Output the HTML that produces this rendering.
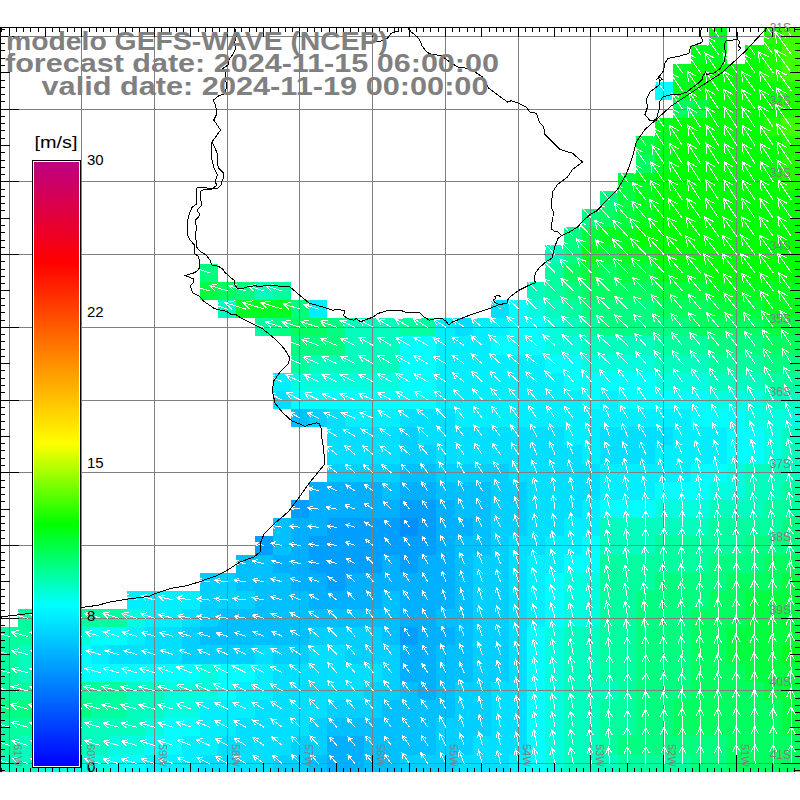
<!DOCTYPE html>
<html><head><meta charset="utf-8"><style>
html,body{margin:0;padding:0;background:#fff;width:800px;height:800px;overflow:hidden}
svg{display:block}
</style></head><body>
<svg width="800" height="800" viewBox="0 0 800 800">
<defs><clipPath id="oc"><rect x="709" y="27" width="18" height="18"/><rect x="764" y="27" width="18" height="18"/><rect x="782" y="27" width="18" height="18"/><rect x="691" y="45" width="36" height="19"/><rect x="745" y="45" width="19" height="19"/><rect x="764" y="45" width="18" height="19"/><rect x="782" y="45" width="18" height="19"/><rect x="673" y="64" width="18" height="18"/><rect x="691" y="64" width="73" height="18"/><rect x="764" y="64" width="18" height="18"/><rect x="782" y="64" width="18" height="18"/><rect x="655" y="82" width="18" height="18"/><rect x="673" y="82" width="18" height="18"/><rect x="691" y="82" width="91" height="18"/><rect x="782" y="82" width="18" height="18"/><rect x="673" y="100" width="18" height="18"/><rect x="691" y="100" width="18" height="18"/><rect x="709" y="100" width="73" height="18"/><rect x="782" y="100" width="18" height="18"/><rect x="655" y="118" width="18" height="18"/><rect x="673" y="118" width="91" height="18"/><rect x="764" y="118" width="18" height="18"/><rect x="782" y="118" width="18" height="18"/><rect x="636" y="136" width="19" height="19"/><rect x="655" y="136" width="18" height="19"/><rect x="673" y="136" width="109" height="19"/><rect x="782" y="136" width="18" height="19"/><rect x="636" y="155" width="19" height="18"/><rect x="655" y="155" width="18" height="18"/><rect x="673" y="155" width="109" height="18"/><rect x="782" y="155" width="18" height="18"/><rect x="618" y="173" width="18" height="18"/><rect x="636" y="173" width="19" height="18"/><rect x="655" y="173" width="127" height="18"/><rect x="782" y="173" width="18" height="18"/><rect x="600" y="191" width="18" height="18"/><rect x="618" y="191" width="18" height="18"/><rect x="636" y="191" width="19" height="18"/><rect x="655" y="191" width="145" height="18"/><rect x="582" y="209" width="18" height="18"/><rect x="600" y="209" width="18" height="18"/><rect x="618" y="209" width="18" height="18"/><rect x="636" y="209" width="19" height="18"/><rect x="655" y="209" width="145" height="18"/><rect x="564" y="227" width="18" height="18"/><rect x="582" y="227" width="18" height="18"/><rect x="600" y="227" width="36" height="18"/><rect x="636" y="227" width="164" height="18"/><rect x="545" y="245" width="19" height="19"/><rect x="564" y="245" width="18" height="19"/><rect x="582" y="245" width="18" height="19"/><rect x="600" y="245" width="18" height="19"/><rect x="618" y="245" width="37" height="19"/><rect x="655" y="245" width="145" height="19"/><rect x="200" y="264" width="18" height="18"/><rect x="545" y="264" width="19" height="18"/><rect x="564" y="264" width="18" height="18"/><rect x="582" y="264" width="18" height="18"/><rect x="600" y="264" width="18" height="18"/><rect x="618" y="264" width="37" height="18"/><rect x="655" y="264" width="54" height="18"/><rect x="709" y="264" width="91" height="18"/><rect x="200" y="282" width="18" height="18"/><rect x="218" y="282" width="18" height="18"/><rect x="236" y="282" width="19" height="18"/><rect x="255" y="282" width="18" height="18"/><rect x="273" y="282" width="18" height="18"/><rect x="527" y="282" width="18" height="18"/><rect x="545" y="282" width="19" height="18"/><rect x="564" y="282" width="18" height="18"/><rect x="582" y="282" width="73" height="18"/><rect x="655" y="282" width="54" height="18"/><rect x="709" y="282" width="91" height="18"/><rect x="218" y="300" width="18" height="18"/><rect x="236" y="300" width="55" height="18"/><rect x="291" y="300" width="18" height="18"/><rect x="309" y="300" width="18" height="18"/><rect x="491" y="300" width="18" height="18"/><rect x="509" y="300" width="18" height="18"/><rect x="527" y="300" width="18" height="18"/><rect x="545" y="300" width="19" height="18"/><rect x="564" y="300" width="18" height="18"/><rect x="582" y="300" width="73" height="18"/><rect x="655" y="300" width="54" height="18"/><rect x="709" y="300" width="55" height="18"/><rect x="764" y="300" width="36" height="18"/><rect x="255" y="318" width="18" height="18"/><rect x="273" y="318" width="18" height="18"/><rect x="291" y="318" width="36" height="18"/><rect x="327" y="318" width="18" height="18"/><rect x="345" y="318" width="55" height="18"/><rect x="400" y="318" width="36" height="18"/><rect x="436" y="318" width="19" height="18"/><rect x="455" y="318" width="18" height="18"/><rect x="473" y="318" width="36" height="18"/><rect x="509" y="318" width="36" height="18"/><rect x="545" y="318" width="19" height="18"/><rect x="564" y="318" width="18" height="18"/><rect x="582" y="318" width="18" height="18"/><rect x="600" y="318" width="91" height="18"/><rect x="691" y="318" width="73" height="18"/><rect x="764" y="318" width="36" height="18"/><rect x="291" y="336" width="54" height="19"/><rect x="345" y="336" width="55" height="19"/><rect x="400" y="336" width="36" height="19"/><rect x="436" y="336" width="55" height="19"/><rect x="491" y="336" width="54" height="19"/><rect x="545" y="336" width="37" height="19"/><rect x="582" y="336" width="73" height="19"/><rect x="655" y="336" width="54" height="19"/><rect x="709" y="336" width="55" height="19"/><rect x="764" y="336" width="36" height="19"/><rect x="291" y="355" width="18" height="18"/><rect x="309" y="355" width="91" height="18"/><rect x="400" y="355" width="36" height="18"/><rect x="436" y="355" width="109" height="18"/><rect x="545" y="355" width="37" height="18"/><rect x="582" y="355" width="73" height="18"/><rect x="655" y="355" width="54" height="18"/><rect x="709" y="355" width="55" height="18"/><rect x="764" y="355" width="36" height="18"/><rect x="273" y="373" width="18" height="18"/><rect x="291" y="373" width="109" height="18"/><rect x="400" y="373" width="36" height="18"/><rect x="436" y="373" width="128" height="18"/><rect x="564" y="373" width="91" height="18"/><rect x="655" y="373" width="54" height="18"/><rect x="709" y="373" width="55" height="18"/><rect x="764" y="373" width="36" height="18"/><rect x="273" y="391" width="18" height="18"/><rect x="291" y="391" width="145" height="18"/><rect x="436" y="391" width="146" height="18"/><rect x="582" y="391" width="18" height="18"/><rect x="600" y="391" width="18" height="18"/><rect x="618" y="391" width="91" height="18"/><rect x="709" y="391" width="55" height="18"/><rect x="764" y="391" width="36" height="18"/><rect x="291" y="409" width="18" height="18"/><rect x="309" y="409" width="18" height="18"/><rect x="327" y="409" width="18" height="18"/><rect x="345" y="409" width="55" height="18"/><rect x="400" y="409" width="55" height="18"/><rect x="455" y="409" width="236" height="18"/><rect x="691" y="409" width="54" height="18"/><rect x="745" y="409" width="55" height="18"/><rect x="327" y="427" width="73" height="18"/><rect x="400" y="427" width="18" height="18"/><rect x="418" y="427" width="146" height="18"/><rect x="564" y="427" width="36" height="18"/><rect x="600" y="427" width="73" height="18"/><rect x="673" y="427" width="54" height="18"/><rect x="727" y="427" width="37" height="18"/><rect x="764" y="427" width="18" height="18"/><rect x="782" y="427" width="18" height="18"/><rect x="327" y="445" width="73" height="19"/><rect x="400" y="445" width="36" height="19"/><rect x="436" y="445" width="146" height="19"/><rect x="582" y="445" width="18" height="19"/><rect x="600" y="445" width="55" height="19"/><rect x="655" y="445" width="72" height="19"/><rect x="727" y="445" width="37" height="19"/><rect x="764" y="445" width="18" height="19"/><rect x="782" y="445" width="18" height="19"/><rect x="327" y="464" width="73" height="18"/><rect x="400" y="464" width="36" height="18"/><rect x="436" y="464" width="73" height="18"/><rect x="509" y="464" width="91" height="18"/><rect x="600" y="464" width="91" height="18"/><rect x="691" y="464" width="36" height="18"/><rect x="727" y="464" width="18" height="18"/><rect x="745" y="464" width="55" height="18"/><rect x="309" y="482" width="73" height="18"/><rect x="382" y="482" width="18" height="18"/><rect x="400" y="482" width="36" height="18"/><rect x="436" y="482" width="55" height="18"/><rect x="491" y="482" width="36" height="18"/><rect x="527" y="482" width="73" height="18"/><rect x="600" y="482" width="55" height="18"/><rect x="655" y="482" width="54" height="18"/><rect x="709" y="482" width="36" height="18"/><rect x="745" y="482" width="37" height="18"/><rect x="782" y="482" width="18" height="18"/><rect x="291" y="500" width="18" height="18"/><rect x="309" y="500" width="91" height="18"/><rect x="400" y="500" width="36" height="18"/><rect x="436" y="500" width="19" height="18"/><rect x="455" y="500" width="36" height="18"/><rect x="491" y="500" width="36" height="18"/><rect x="527" y="500" width="55" height="18"/><rect x="582" y="500" width="18" height="18"/><rect x="600" y="500" width="55" height="18"/><rect x="655" y="500" width="54" height="18"/><rect x="709" y="500" width="55" height="18"/><rect x="764" y="500" width="36" height="18"/><rect x="273" y="518" width="18" height="18"/><rect x="291" y="518" width="36" height="18"/><rect x="327" y="518" width="73" height="18"/><rect x="400" y="518" width="18" height="18"/><rect x="418" y="518" width="18" height="18"/><rect x="436" y="518" width="37" height="18"/><rect x="473" y="518" width="18" height="18"/><rect x="491" y="518" width="36" height="18"/><rect x="527" y="518" width="37" height="18"/><rect x="564" y="518" width="36" height="18"/><rect x="600" y="518" width="109" height="18"/><rect x="709" y="518" width="73" height="18"/><rect x="782" y="518" width="18" height="18"/><rect x="255" y="536" width="18" height="19"/><rect x="273" y="536" width="18" height="19"/><rect x="291" y="536" width="18" height="19"/><rect x="309" y="536" width="127" height="19"/><rect x="436" y="536" width="19" height="19"/><rect x="455" y="536" width="36" height="19"/><rect x="491" y="536" width="18" height="19"/><rect x="509" y="536" width="36" height="19"/><rect x="545" y="536" width="37" height="19"/><rect x="582" y="536" width="18" height="19"/><rect x="600" y="536" width="55" height="19"/><rect x="655" y="536" width="90" height="19"/><rect x="745" y="536" width="55" height="19"/><rect x="236" y="555" width="37" height="18"/><rect x="273" y="555" width="36" height="18"/><rect x="309" y="555" width="73" height="18"/><rect x="382" y="555" width="18" height="18"/><rect x="400" y="555" width="18" height="18"/><rect x="418" y="555" width="37" height="18"/><rect x="455" y="555" width="18" height="18"/><rect x="473" y="555" width="36" height="18"/><rect x="509" y="555" width="18" height="18"/><rect x="527" y="555" width="37" height="18"/><rect x="564" y="555" width="36" height="18"/><rect x="600" y="555" width="109" height="18"/><rect x="709" y="555" width="55" height="18"/><rect x="764" y="555" width="36" height="18"/><rect x="200" y="573" width="36" height="18"/><rect x="236" y="573" width="55" height="18"/><rect x="291" y="573" width="36" height="18"/><rect x="327" y="573" width="18" height="18"/><rect x="345" y="573" width="110" height="18"/><rect x="455" y="573" width="18" height="18"/><rect x="473" y="573" width="36" height="18"/><rect x="509" y="573" width="18" height="18"/><rect x="527" y="573" width="18" height="18"/><rect x="545" y="573" width="19" height="18"/><rect x="564" y="573" width="36" height="18"/><rect x="600" y="573" width="55" height="18"/><rect x="655" y="573" width="72" height="18"/><rect x="727" y="573" width="55" height="18"/><rect x="782" y="573" width="18" height="18"/><rect x="127" y="591" width="73" height="18"/><rect x="200" y="591" width="55" height="18"/><rect x="255" y="591" width="54" height="18"/><rect x="309" y="591" width="73" height="18"/><rect x="382" y="591" width="18" height="18"/><rect x="400" y="591" width="55" height="18"/><rect x="455" y="591" width="18" height="18"/><rect x="473" y="591" width="36" height="18"/><rect x="509" y="591" width="18" height="18"/><rect x="527" y="591" width="18" height="18"/><rect x="545" y="591" width="19" height="18"/><rect x="564" y="591" width="36" height="18"/><rect x="600" y="591" width="36" height="18"/><rect x="636" y="591" width="73" height="18"/><rect x="709" y="591" width="36" height="18"/><rect x="745" y="591" width="55" height="18"/><rect x="18" y="609" width="109" height="18"/><rect x="127" y="609" width="18" height="18"/><rect x="145" y="609" width="37" height="18"/><rect x="182" y="609" width="18" height="18"/><rect x="200" y="609" width="18" height="18"/><rect x="218" y="609" width="182" height="18"/><rect x="400" y="609" width="36" height="18"/><rect x="436" y="609" width="37" height="18"/><rect x="473" y="609" width="36" height="18"/><rect x="509" y="609" width="18" height="18"/><rect x="527" y="609" width="18" height="18"/><rect x="545" y="609" width="19" height="18"/><rect x="564" y="609" width="36" height="18"/><rect x="600" y="609" width="36" height="18"/><rect x="636" y="609" width="55" height="18"/><rect x="691" y="609" width="54" height="18"/><rect x="745" y="609" width="55" height="18"/><rect x="0" y="627" width="36" height="18"/><rect x="36" y="627" width="37" height="18"/><rect x="73" y="627" width="18" height="18"/><rect x="91" y="627" width="36" height="18"/><rect x="127" y="627" width="18" height="18"/><rect x="145" y="627" width="37" height="18"/><rect x="182" y="627" width="18" height="18"/><rect x="200" y="627" width="109" height="18"/><rect x="309" y="627" width="73" height="18"/><rect x="382" y="627" width="18" height="18"/><rect x="400" y="627" width="18" height="18"/><rect x="418" y="627" width="37" height="18"/><rect x="455" y="627" width="18" height="18"/><rect x="473" y="627" width="36" height="18"/><rect x="509" y="627" width="18" height="18"/><rect x="527" y="627" width="18" height="18"/><rect x="545" y="627" width="19" height="18"/><rect x="564" y="627" width="36" height="18"/><rect x="600" y="627" width="36" height="18"/><rect x="636" y="627" width="55" height="18"/><rect x="691" y="627" width="36" height="18"/><rect x="727" y="627" width="73" height="18"/><rect x="0" y="645" width="18" height="19"/><rect x="18" y="645" width="18" height="19"/><rect x="36" y="645" width="37" height="19"/><rect x="73" y="645" width="18" height="19"/><rect x="91" y="645" width="18" height="19"/><rect x="109" y="645" width="73" height="19"/><rect x="182" y="645" width="73" height="19"/><rect x="255" y="645" width="18" height="19"/><rect x="273" y="645" width="36" height="19"/><rect x="309" y="645" width="36" height="19"/><rect x="345" y="645" width="55" height="19"/><rect x="400" y="645" width="36" height="19"/><rect x="436" y="645" width="37" height="19"/><rect x="473" y="645" width="36" height="19"/><rect x="509" y="645" width="18" height="19"/><rect x="527" y="645" width="18" height="19"/><rect x="545" y="645" width="19" height="19"/><rect x="564" y="645" width="36" height="19"/><rect x="600" y="645" width="36" height="19"/><rect x="636" y="645" width="55" height="19"/><rect x="691" y="645" width="36" height="19"/><rect x="727" y="645" width="55" height="19"/><rect x="782" y="645" width="18" height="19"/><rect x="0" y="664" width="18" height="18"/><rect x="18" y="664" width="18" height="18"/><rect x="36" y="664" width="37" height="18"/><rect x="73" y="664" width="127" height="18"/><rect x="200" y="664" width="18" height="18"/><rect x="218" y="664" width="37" height="18"/><rect x="255" y="664" width="18" height="18"/><rect x="273" y="664" width="109" height="18"/><rect x="382" y="664" width="18" height="18"/><rect x="400" y="664" width="36" height="18"/><rect x="436" y="664" width="37" height="18"/><rect x="473" y="664" width="36" height="18"/><rect x="509" y="664" width="18" height="18"/><rect x="527" y="664" width="18" height="18"/><rect x="545" y="664" width="19" height="18"/><rect x="564" y="664" width="36" height="18"/><rect x="600" y="664" width="36" height="18"/><rect x="636" y="664" width="55" height="18"/><rect x="691" y="664" width="54" height="18"/><rect x="745" y="664" width="55" height="18"/><rect x="0" y="682" width="127" height="18"/><rect x="127" y="682" width="37" height="18"/><rect x="164" y="682" width="54" height="18"/><rect x="218" y="682" width="18" height="18"/><rect x="236" y="682" width="37" height="18"/><rect x="273" y="682" width="91" height="18"/><rect x="364" y="682" width="36" height="18"/><rect x="400" y="682" width="18" height="18"/><rect x="418" y="682" width="18" height="18"/><rect x="436" y="682" width="19" height="18"/><rect x="455" y="682" width="36" height="18"/><rect x="491" y="682" width="36" height="18"/><rect x="527" y="682" width="18" height="18"/><rect x="545" y="682" width="19" height="18"/><rect x="564" y="682" width="54" height="18"/><rect x="618" y="682" width="18" height="18"/><rect x="636" y="682" width="55" height="18"/><rect x="691" y="682" width="73" height="18"/><rect x="764" y="682" width="36" height="18"/><rect x="0" y="700" width="91" height="18"/><rect x="91" y="700" width="36" height="18"/><rect x="127" y="700" width="37" height="18"/><rect x="164" y="700" width="36" height="18"/><rect x="200" y="700" width="55" height="18"/><rect x="255" y="700" width="72" height="18"/><rect x="327" y="700" width="55" height="18"/><rect x="382" y="700" width="73" height="18"/><rect x="455" y="700" width="36" height="18"/><rect x="491" y="700" width="36" height="18"/><rect x="527" y="700" width="18" height="18"/><rect x="545" y="700" width="19" height="18"/><rect x="564" y="700" width="36" height="18"/><rect x="600" y="700" width="36" height="18"/><rect x="636" y="700" width="37" height="18"/><rect x="673" y="700" width="109" height="18"/><rect x="782" y="700" width="18" height="18"/><rect x="0" y="718" width="73" height="18"/><rect x="73" y="718" width="72" height="18"/><rect x="145" y="718" width="19" height="18"/><rect x="164" y="718" width="36" height="18"/><rect x="200" y="718" width="36" height="18"/><rect x="236" y="718" width="73" height="18"/><rect x="309" y="718" width="18" height="18"/><rect x="327" y="718" width="109" height="18"/><rect x="436" y="718" width="55" height="18"/><rect x="491" y="718" width="36" height="18"/><rect x="527" y="718" width="18" height="18"/><rect x="545" y="718" width="19" height="18"/><rect x="564" y="718" width="36" height="18"/><rect x="600" y="718" width="36" height="18"/><rect x="636" y="718" width="37" height="18"/><rect x="673" y="718" width="109" height="18"/><rect x="782" y="718" width="18" height="18"/><rect x="0" y="736" width="18" height="19"/><rect x="18" y="736" width="91" height="19"/><rect x="109" y="736" width="36" height="19"/><rect x="145" y="736" width="37" height="19"/><rect x="182" y="736" width="36" height="19"/><rect x="218" y="736" width="73" height="19"/><rect x="291" y="736" width="36" height="19"/><rect x="327" y="736" width="37" height="19"/><rect x="364" y="736" width="72" height="19"/><rect x="436" y="736" width="37" height="19"/><rect x="473" y="736" width="54" height="19"/><rect x="527" y="736" width="18" height="19"/><rect x="545" y="736" width="19" height="19"/><rect x="564" y="736" width="36" height="19"/><rect x="600" y="736" width="18" height="19"/><rect x="618" y="736" width="109" height="19"/><rect x="727" y="736" width="73" height="19"/><rect x="0" y="755" width="36" height="17"/><rect x="36" y="755" width="73" height="17"/><rect x="109" y="755" width="36" height="17"/><rect x="145" y="755" width="55" height="17"/><rect x="200" y="755" width="73" height="17"/><rect x="273" y="755" width="36" height="17"/><rect x="309" y="755" width="18" height="17"/><rect x="327" y="755" width="37" height="17"/><rect x="364" y="755" width="36" height="17"/><rect x="400" y="755" width="55" height="17"/><rect x="455" y="755" width="54" height="17"/><rect x="509" y="755" width="18" height="17"/><rect x="527" y="755" width="18" height="17"/><rect x="545" y="755" width="19" height="17"/><rect x="564" y="755" width="54" height="17"/><rect x="618" y="755" width="73" height="17"/><rect x="691" y="755" width="36" height="17"/><rect x="727" y="755" width="73" height="17"/></clipPath></defs>
<g shape-rendering="crispEdges"><rect x="709" y="27" width="18" height="18" fill="#00ff20"/><rect x="764" y="27" width="18" height="18" fill="#20ff00"/><rect x="782" y="27" width="18" height="18" fill="#40ff00"/><rect x="691" y="45" width="36" height="19" fill="#00ff20"/><rect x="745" y="45" width="19" height="19" fill="#00ff00"/><rect x="764" y="45" width="18" height="19" fill="#20ff00"/><rect x="782" y="45" width="18" height="19" fill="#40ff00"/><rect x="673" y="64" width="18" height="18" fill="#00ff20"/><rect x="691" y="64" width="73" height="18" fill="#00ff00"/><rect x="764" y="64" width="18" height="18" fill="#20ff00"/><rect x="782" y="64" width="18" height="18" fill="#40ff00"/><rect x="655" y="82" width="18" height="18" fill="#00ffff"/><rect x="673" y="82" width="18" height="18" fill="#00ff20"/><rect x="691" y="82" width="91" height="18" fill="#00ff00"/><rect x="782" y="82" width="18" height="18" fill="#20ff00"/><rect x="673" y="100" width="18" height="18" fill="#00ff60"/><rect x="691" y="100" width="18" height="18" fill="#00ff40"/><rect x="709" y="100" width="73" height="18" fill="#00ff00"/><rect x="782" y="100" width="18" height="18" fill="#20ff00"/><rect x="655" y="118" width="18" height="18" fill="#00ff20"/><rect x="673" y="118" width="91" height="18" fill="#00ff00"/><rect x="764" y="118" width="18" height="18" fill="#20ff00"/><rect x="782" y="118" width="18" height="18" fill="#40ff00"/><rect x="636" y="136" width="19" height="19" fill="#00ff40"/><rect x="655" y="136" width="18" height="19" fill="#00ff20"/><rect x="673" y="136" width="109" height="19" fill="#00ff00"/><rect x="782" y="136" width="18" height="19" fill="#20ff00"/><rect x="636" y="155" width="19" height="18" fill="#00ff60"/><rect x="655" y="155" width="18" height="18" fill="#00ff20"/><rect x="673" y="155" width="109" height="18" fill="#00ff00"/><rect x="782" y="155" width="18" height="18" fill="#20ff00"/><rect x="618" y="173" width="18" height="18" fill="#00ff40"/><rect x="636" y="173" width="19" height="18" fill="#00ff20"/><rect x="655" y="173" width="127" height="18" fill="#00ff00"/><rect x="782" y="173" width="18" height="18" fill="#20ff00"/><rect x="600" y="191" width="18" height="18" fill="#00ff80"/><rect x="618" y="191" width="18" height="18" fill="#00ff40"/><rect x="636" y="191" width="19" height="18" fill="#00ff20"/><rect x="655" y="191" width="145" height="18" fill="#00ff00"/><rect x="582" y="209" width="18" height="18" fill="#00ff80"/><rect x="600" y="209" width="18" height="18" fill="#00ff60"/><rect x="618" y="209" width="18" height="18" fill="#00ff40"/><rect x="636" y="209" width="19" height="18" fill="#00ff20"/><rect x="655" y="209" width="145" height="18" fill="#00ff00"/><rect x="564" y="227" width="18" height="18" fill="#00ff80"/><rect x="582" y="227" width="18" height="18" fill="#00ff40"/><rect x="600" y="227" width="36" height="18" fill="#00ff20"/><rect x="636" y="227" width="164" height="18" fill="#00ff00"/><rect x="545" y="245" width="19" height="19" fill="#00ffbf"/><rect x="564" y="245" width="18" height="19" fill="#00ff80"/><rect x="582" y="245" width="18" height="19" fill="#00ff20"/><rect x="600" y="245" width="18" height="19" fill="#00ff40"/><rect x="618" y="245" width="37" height="19" fill="#00ff20"/><rect x="655" y="245" width="145" height="19" fill="#00ff00"/><rect x="200" y="264" width="18" height="18" fill="#00ff80"/><rect x="545" y="264" width="19" height="18" fill="#00ff9f"/><rect x="564" y="264" width="18" height="18" fill="#00ff60"/><rect x="582" y="264" width="18" height="18" fill="#00ff40"/><rect x="600" y="264" width="18" height="18" fill="#00ff60"/><rect x="618" y="264" width="37" height="18" fill="#00ff40"/><rect x="655" y="264" width="54" height="18" fill="#00ff20"/><rect x="709" y="264" width="91" height="18" fill="#00ff00"/><rect x="200" y="282" width="18" height="18" fill="#00ff40"/><rect x="218" y="282" width="18" height="18" fill="#00ff60"/><rect x="236" y="282" width="19" height="18" fill="#00ff80"/><rect x="255" y="282" width="18" height="18" fill="#00ffbf"/><rect x="273" y="282" width="18" height="18" fill="#00ff9f"/><rect x="527" y="282" width="18" height="18" fill="#00ffbf"/><rect x="545" y="282" width="19" height="18" fill="#00ff9f"/><rect x="564" y="282" width="18" height="18" fill="#00ff80"/><rect x="582" y="282" width="73" height="18" fill="#00ff60"/><rect x="655" y="282" width="54" height="18" fill="#00ff40"/><rect x="709" y="282" width="91" height="18" fill="#00ff20"/><rect x="218" y="300" width="18" height="18" fill="#00ffbf"/><rect x="236" y="300" width="55" height="18" fill="#00ff20"/><rect x="291" y="300" width="18" height="18" fill="#00ff80"/><rect x="309" y="300" width="18" height="18" fill="#00efff"/><rect x="491" y="300" width="18" height="18" fill="#00dfff"/><rect x="509" y="300" width="18" height="18" fill="#00ffff"/><rect x="527" y="300" width="18" height="18" fill="#00ffdf"/><rect x="545" y="300" width="19" height="18" fill="#00ffbf"/><rect x="564" y="300" width="18" height="18" fill="#00ff9f"/><rect x="582" y="300" width="73" height="18" fill="#00ff80"/><rect x="655" y="300" width="54" height="18" fill="#00ff60"/><rect x="709" y="300" width="55" height="18" fill="#00ff40"/><rect x="764" y="300" width="36" height="18" fill="#00ff20"/><rect x="255" y="318" width="18" height="18" fill="#00ff9f"/><rect x="273" y="318" width="18" height="18" fill="#00ff80"/><rect x="291" y="318" width="36" height="18" fill="#00ff60"/><rect x="327" y="318" width="18" height="18" fill="#00ff80"/><rect x="345" y="318" width="55" height="18" fill="#00ffbf"/><rect x="400" y="318" width="36" height="18" fill="#00ff9f"/><rect x="436" y="318" width="19" height="18" fill="#00efff"/><rect x="455" y="318" width="18" height="18" fill="#00dfff"/><rect x="473" y="318" width="36" height="18" fill="#00efff"/><rect x="509" y="318" width="36" height="18" fill="#00ffff"/><rect x="545" y="318" width="19" height="18" fill="#00ffdf"/><rect x="564" y="318" width="18" height="18" fill="#00ffbf"/><rect x="582" y="318" width="18" height="18" fill="#00ff9f"/><rect x="600" y="318" width="91" height="18" fill="#00ff80"/><rect x="691" y="318" width="73" height="18" fill="#00ff60"/><rect x="764" y="318" width="36" height="18" fill="#00ff40"/><rect x="291" y="336" width="54" height="19" fill="#00ff80"/><rect x="345" y="336" width="55" height="19" fill="#00ffbf"/><rect x="400" y="336" width="36" height="19" fill="#00ffff"/><rect x="436" y="336" width="55" height="19" fill="#00efff"/><rect x="491" y="336" width="54" height="19" fill="#00ffff"/><rect x="545" y="336" width="37" height="19" fill="#00ffdf"/><rect x="582" y="336" width="73" height="19" fill="#00ffbf"/><rect x="655" y="336" width="54" height="19" fill="#00ff9f"/><rect x="709" y="336" width="55" height="19" fill="#00ff80"/><rect x="764" y="336" width="36" height="19" fill="#00ff60"/><rect x="291" y="355" width="18" height="18" fill="#00ff9f"/><rect x="309" y="355" width="91" height="18" fill="#00ffbf"/><rect x="400" y="355" width="36" height="18" fill="#00ffff"/><rect x="436" y="355" width="109" height="18" fill="#00efff"/><rect x="545" y="355" width="37" height="18" fill="#00ffff"/><rect x="582" y="355" width="73" height="18" fill="#00ffdf"/><rect x="655" y="355" width="54" height="18" fill="#00ffbf"/><rect x="709" y="355" width="55" height="18" fill="#00ff9f"/><rect x="764" y="355" width="36" height="18" fill="#00ff80"/><rect x="273" y="373" width="18" height="18" fill="#00efff"/><rect x="291" y="373" width="109" height="18" fill="#00ffdf"/><rect x="400" y="373" width="36" height="18" fill="#00ffff"/><rect x="436" y="373" width="128" height="18" fill="#00efff"/><rect x="564" y="373" width="91" height="18" fill="#00ffff"/><rect x="655" y="373" width="54" height="18" fill="#00ffdf"/><rect x="709" y="373" width="55" height="18" fill="#00ffbf"/><rect x="764" y="373" width="36" height="18" fill="#00ff9f"/><rect x="273" y="391" width="18" height="18" fill="#00dfff"/><rect x="291" y="391" width="145" height="18" fill="#00ffff"/><rect x="436" y="391" width="146" height="18" fill="#00efff"/><rect x="582" y="391" width="18" height="18" fill="#00ffff"/><rect x="600" y="391" width="18" height="18" fill="#00efff"/><rect x="618" y="391" width="91" height="18" fill="#00ffff"/><rect x="709" y="391" width="55" height="18" fill="#00ffdf"/><rect x="764" y="391" width="36" height="18" fill="#00ffbf"/><rect x="291" y="409" width="18" height="18" fill="#00bfff"/><rect x="309" y="409" width="18" height="18" fill="#00cfff"/><rect x="327" y="409" width="18" height="18" fill="#00dfff"/><rect x="345" y="409" width="55" height="18" fill="#00efff"/><rect x="400" y="409" width="55" height="18" fill="#00dfff"/><rect x="455" y="409" width="236" height="18" fill="#00efff"/><rect x="691" y="409" width="54" height="18" fill="#00ffff"/><rect x="745" y="409" width="55" height="18" fill="#00ffdf"/><rect x="327" y="427" width="73" height="18" fill="#00dfff"/><rect x="400" y="427" width="18" height="18" fill="#00cfff"/><rect x="418" y="427" width="146" height="18" fill="#00dfff"/><rect x="564" y="427" width="36" height="18" fill="#00efff"/><rect x="600" y="427" width="73" height="18" fill="#00dfff"/><rect x="673" y="427" width="54" height="18" fill="#00efff"/><rect x="727" y="427" width="37" height="18" fill="#00ffff"/><rect x="764" y="427" width="18" height="18" fill="#00ffdf"/><rect x="782" y="427" width="18" height="18" fill="#00ffbf"/><rect x="327" y="445" width="73" height="19" fill="#00dfff"/><rect x="400" y="445" width="36" height="19" fill="#00cfff"/><rect x="436" y="445" width="146" height="19" fill="#00dfff"/><rect x="582" y="445" width="18" height="19" fill="#00efff"/><rect x="600" y="445" width="55" height="19" fill="#00dfff"/><rect x="655" y="445" width="72" height="19" fill="#00efff"/><rect x="727" y="445" width="37" height="19" fill="#00ffff"/><rect x="764" y="445" width="18" height="19" fill="#00ffdf"/><rect x="782" y="445" width="18" height="19" fill="#00ffbf"/><rect x="327" y="464" width="73" height="18" fill="#00cfff"/><rect x="400" y="464" width="36" height="18" fill="#00bfff"/><rect x="436" y="464" width="73" height="18" fill="#00cfff"/><rect x="509" y="464" width="91" height="18" fill="#00dfff"/><rect x="600" y="464" width="91" height="18" fill="#00efff"/><rect x="691" y="464" width="36" height="18" fill="#00ffff"/><rect x="727" y="464" width="18" height="18" fill="#00ffdf"/><rect x="745" y="464" width="55" height="18" fill="#00ffbf"/><rect x="309" y="482" width="73" height="18" fill="#00afff"/><rect x="382" y="482" width="18" height="18" fill="#00bfff"/><rect x="400" y="482" width="36" height="18" fill="#00afff"/><rect x="436" y="482" width="55" height="18" fill="#00bfff"/><rect x="491" y="482" width="36" height="18" fill="#00cfff"/><rect x="527" y="482" width="73" height="18" fill="#00dfff"/><rect x="600" y="482" width="55" height="18" fill="#00efff"/><rect x="655" y="482" width="54" height="18" fill="#00ffff"/><rect x="709" y="482" width="36" height="18" fill="#00ffdf"/><rect x="745" y="482" width="37" height="18" fill="#00ffbf"/><rect x="782" y="482" width="18" height="18" fill="#00ff9f"/><rect x="291" y="500" width="18" height="18" fill="#009fff"/><rect x="309" y="500" width="91" height="18" fill="#00afff"/><rect x="400" y="500" width="36" height="18" fill="#009fff"/><rect x="436" y="500" width="19" height="18" fill="#00afff"/><rect x="455" y="500" width="36" height="18" fill="#00bfff"/><rect x="491" y="500" width="36" height="18" fill="#00cfff"/><rect x="527" y="500" width="55" height="18" fill="#00dfff"/><rect x="582" y="500" width="18" height="18" fill="#00efff"/><rect x="600" y="500" width="55" height="18" fill="#00ffff"/><rect x="655" y="500" width="54" height="18" fill="#00ffdf"/><rect x="709" y="500" width="55" height="18" fill="#00ffbf"/><rect x="764" y="500" width="36" height="18" fill="#00ff9f"/><rect x="273" y="518" width="18" height="18" fill="#00bfff"/><rect x="291" y="518" width="36" height="18" fill="#00afff"/><rect x="327" y="518" width="73" height="18" fill="#009fff"/><rect x="400" y="518" width="18" height="18" fill="#008fff"/><rect x="418" y="518" width="18" height="18" fill="#009fff"/><rect x="436" y="518" width="37" height="18" fill="#00afff"/><rect x="473" y="518" width="18" height="18" fill="#00bfff"/><rect x="491" y="518" width="36" height="18" fill="#00cfff"/><rect x="527" y="518" width="37" height="18" fill="#00dfff"/><rect x="564" y="518" width="36" height="18" fill="#00efff"/><rect x="600" y="518" width="109" height="18" fill="#00ffbf"/><rect x="709" y="518" width="73" height="18" fill="#00ff9f"/><rect x="782" y="518" width="18" height="18" fill="#00ff80"/><rect x="255" y="536" width="18" height="19" fill="#009fff"/><rect x="273" y="536" width="18" height="19" fill="#00bfff"/><rect x="291" y="536" width="18" height="19" fill="#00afff"/><rect x="309" y="536" width="127" height="19" fill="#009fff"/><rect x="436" y="536" width="19" height="19" fill="#00afff"/><rect x="455" y="536" width="36" height="19" fill="#00bfff"/><rect x="491" y="536" width="18" height="19" fill="#00cfff"/><rect x="509" y="536" width="36" height="19" fill="#00dfff"/><rect x="545" y="536" width="37" height="19" fill="#00efff"/><rect x="582" y="536" width="18" height="19" fill="#00ffff"/><rect x="600" y="536" width="55" height="19" fill="#00ffbf"/><rect x="655" y="536" width="90" height="19" fill="#00ff9f"/><rect x="745" y="536" width="55" height="19" fill="#00ff80"/><rect x="236" y="555" width="37" height="18" fill="#00bfff"/><rect x="273" y="555" width="36" height="18" fill="#00afff"/><rect x="309" y="555" width="73" height="18" fill="#009fff"/><rect x="382" y="555" width="18" height="18" fill="#00afff"/><rect x="400" y="555" width="18" height="18" fill="#009fff"/><rect x="418" y="555" width="37" height="18" fill="#00afff"/><rect x="455" y="555" width="18" height="18" fill="#00bfff"/><rect x="473" y="555" width="36" height="18" fill="#00cfff"/><rect x="509" y="555" width="18" height="18" fill="#00dfff"/><rect x="527" y="555" width="37" height="18" fill="#00efff"/><rect x="564" y="555" width="36" height="18" fill="#00ffff"/><rect x="600" y="555" width="109" height="18" fill="#00ff9f"/><rect x="709" y="555" width="55" height="18" fill="#00ff80"/><rect x="764" y="555" width="36" height="18" fill="#00ff60"/><rect x="200" y="573" width="36" height="18" fill="#00cfff"/><rect x="236" y="573" width="55" height="18" fill="#00bfff"/><rect x="291" y="573" width="36" height="18" fill="#00afff"/><rect x="327" y="573" width="18" height="18" fill="#009fff"/><rect x="345" y="573" width="110" height="18" fill="#00afff"/><rect x="455" y="573" width="18" height="18" fill="#00bfff"/><rect x="473" y="573" width="36" height="18" fill="#00cfff"/><rect x="509" y="573" width="18" height="18" fill="#00dfff"/><rect x="527" y="573" width="18" height="18" fill="#00efff"/><rect x="545" y="573" width="19" height="18" fill="#00ffff"/><rect x="564" y="573" width="36" height="18" fill="#00ffdf"/><rect x="600" y="573" width="55" height="18" fill="#00ff9f"/><rect x="655" y="573" width="72" height="18" fill="#00ff80"/><rect x="727" y="573" width="55" height="18" fill="#00ff60"/><rect x="782" y="573" width="18" height="18" fill="#00ff40"/><rect x="127" y="591" width="73" height="18" fill="#00efff"/><rect x="200" y="591" width="55" height="18" fill="#00cfff"/><rect x="255" y="591" width="54" height="18" fill="#00bfff"/><rect x="309" y="591" width="73" height="18" fill="#00afff"/><rect x="382" y="591" width="18" height="18" fill="#00bfff"/><rect x="400" y="591" width="55" height="18" fill="#00afff"/><rect x="455" y="591" width="18" height="18" fill="#00bfff"/><rect x="473" y="591" width="36" height="18" fill="#00cfff"/><rect x="509" y="591" width="18" height="18" fill="#00dfff"/><rect x="527" y="591" width="18" height="18" fill="#00efff"/><rect x="545" y="591" width="19" height="18" fill="#00ffff"/><rect x="564" y="591" width="36" height="18" fill="#00ffdf"/><rect x="600" y="591" width="36" height="18" fill="#00ff9f"/><rect x="636" y="591" width="73" height="18" fill="#00ff80"/><rect x="709" y="591" width="36" height="18" fill="#00ff60"/><rect x="745" y="591" width="55" height="18" fill="#00ff40"/><rect x="18" y="609" width="109" height="18" fill="#00ff9f"/><rect x="127" y="609" width="18" height="18" fill="#00ffdf"/><rect x="145" y="609" width="37" height="18" fill="#00efff"/><rect x="182" y="609" width="18" height="18" fill="#00dfff"/><rect x="200" y="609" width="18" height="18" fill="#00cfff"/><rect x="218" y="609" width="182" height="18" fill="#00bfff"/><rect x="400" y="609" width="36" height="18" fill="#00afff"/><rect x="436" y="609" width="37" height="18" fill="#00bfff"/><rect x="473" y="609" width="36" height="18" fill="#00cfff"/><rect x="509" y="609" width="18" height="18" fill="#00dfff"/><rect x="527" y="609" width="18" height="18" fill="#00efff"/><rect x="545" y="609" width="19" height="18" fill="#00ffff"/><rect x="564" y="609" width="36" height="18" fill="#00ffdf"/><rect x="600" y="609" width="36" height="18" fill="#00ff9f"/><rect x="636" y="609" width="55" height="18" fill="#00ff80"/><rect x="691" y="609" width="54" height="18" fill="#00ff60"/><rect x="745" y="609" width="55" height="18" fill="#00ff40"/><rect x="0" y="627" width="36" height="18" fill="#00ff9f"/><rect x="36" y="627" width="37" height="18" fill="#00ffbf"/><rect x="73" y="627" width="18" height="18" fill="#00ffdf"/><rect x="91" y="627" width="36" height="18" fill="#00ffff"/><rect x="127" y="627" width="18" height="18" fill="#00efff"/><rect x="145" y="627" width="37" height="18" fill="#00dfff"/><rect x="182" y="627" width="18" height="18" fill="#00cfff"/><rect x="200" y="627" width="109" height="18" fill="#00bfff"/><rect x="309" y="627" width="73" height="18" fill="#00cfff"/><rect x="382" y="627" width="18" height="18" fill="#00bfff"/><rect x="400" y="627" width="18" height="18" fill="#009fff"/><rect x="418" y="627" width="37" height="18" fill="#00afff"/><rect x="455" y="627" width="18" height="18" fill="#00bfff"/><rect x="473" y="627" width="36" height="18" fill="#00cfff"/><rect x="509" y="627" width="18" height="18" fill="#00dfff"/><rect x="527" y="627" width="18" height="18" fill="#00ffff"/><rect x="545" y="627" width="19" height="18" fill="#00ffdf"/><rect x="564" y="627" width="36" height="18" fill="#00ffbf"/><rect x="600" y="627" width="36" height="18" fill="#00ff9f"/><rect x="636" y="627" width="55" height="18" fill="#00ff80"/><rect x="691" y="627" width="36" height="18" fill="#00ff60"/><rect x="727" y="627" width="73" height="18" fill="#00ff40"/><rect x="0" y="645" width="18" height="19" fill="#00ff9f"/><rect x="18" y="645" width="18" height="19" fill="#00ffbf"/><rect x="36" y="645" width="37" height="19" fill="#00ffdf"/><rect x="73" y="645" width="18" height="19" fill="#00ffff"/><rect x="91" y="645" width="18" height="19" fill="#00efff"/><rect x="109" y="645" width="73" height="19" fill="#00dfff"/><rect x="182" y="645" width="73" height="19" fill="#00cfff"/><rect x="255" y="645" width="18" height="19" fill="#00dfff"/><rect x="273" y="645" width="36" height="19" fill="#00cfff"/><rect x="309" y="645" width="36" height="19" fill="#00dfff"/><rect x="345" y="645" width="55" height="19" fill="#00cfff"/><rect x="400" y="645" width="36" height="19" fill="#00afff"/><rect x="436" y="645" width="37" height="19" fill="#00bfff"/><rect x="473" y="645" width="36" height="19" fill="#00cfff"/><rect x="509" y="645" width="18" height="19" fill="#00dfff"/><rect x="527" y="645" width="18" height="19" fill="#00ffff"/><rect x="545" y="645" width="19" height="19" fill="#00ffdf"/><rect x="564" y="645" width="36" height="19" fill="#00ffbf"/><rect x="600" y="645" width="36" height="19" fill="#00ff9f"/><rect x="636" y="645" width="55" height="19" fill="#00ff80"/><rect x="691" y="645" width="36" height="19" fill="#00ff60"/><rect x="727" y="645" width="55" height="19" fill="#00ff40"/><rect x="782" y="645" width="18" height="19" fill="#00ff20"/><rect x="0" y="664" width="18" height="18" fill="#00ff9f"/><rect x="18" y="664" width="18" height="18" fill="#00ffbf"/><rect x="36" y="664" width="37" height="18" fill="#00ffdf"/><rect x="73" y="664" width="127" height="18" fill="#00ffff"/><rect x="200" y="664" width="18" height="18" fill="#00ffdf"/><rect x="218" y="664" width="37" height="18" fill="#00ffff"/><rect x="255" y="664" width="18" height="18" fill="#00efff"/><rect x="273" y="664" width="109" height="18" fill="#00dfff"/><rect x="382" y="664" width="18" height="18" fill="#00cfff"/><rect x="400" y="664" width="36" height="18" fill="#00afff"/><rect x="436" y="664" width="37" height="18" fill="#00bfff"/><rect x="473" y="664" width="36" height="18" fill="#00cfff"/><rect x="509" y="664" width="18" height="18" fill="#00dfff"/><rect x="527" y="664" width="18" height="18" fill="#00ffff"/><rect x="545" y="664" width="19" height="18" fill="#00ffdf"/><rect x="564" y="664" width="36" height="18" fill="#00ffbf"/><rect x="600" y="664" width="36" height="18" fill="#00ff9f"/><rect x="636" y="664" width="55" height="18" fill="#00ff80"/><rect x="691" y="664" width="54" height="18" fill="#00ff60"/><rect x="745" y="664" width="55" height="18" fill="#00ff40"/><rect x="0" y="682" width="127" height="18" fill="#00ff9f"/><rect x="127" y="682" width="37" height="18" fill="#00ffbf"/><rect x="164" y="682" width="54" height="18" fill="#00ffdf"/><rect x="218" y="682" width="18" height="18" fill="#00ffff"/><rect x="236" y="682" width="37" height="18" fill="#00efff"/><rect x="273" y="682" width="91" height="18" fill="#00dfff"/><rect x="364" y="682" width="36" height="18" fill="#00cfff"/><rect x="400" y="682" width="18" height="18" fill="#00bfff"/><rect x="418" y="682" width="18" height="18" fill="#00afff"/><rect x="436" y="682" width="19" height="18" fill="#00bfff"/><rect x="455" y="682" width="36" height="18" fill="#00cfff"/><rect x="491" y="682" width="36" height="18" fill="#00dfff"/><rect x="527" y="682" width="18" height="18" fill="#00ffff"/><rect x="545" y="682" width="19" height="18" fill="#00ffdf"/><rect x="564" y="682" width="54" height="18" fill="#00ffbf"/><rect x="618" y="682" width="18" height="18" fill="#00ff9f"/><rect x="636" y="682" width="55" height="18" fill="#00ff80"/><rect x="691" y="682" width="73" height="18" fill="#00ff60"/><rect x="764" y="682" width="36" height="18" fill="#00ff40"/><rect x="0" y="700" width="91" height="18" fill="#00ff80"/><rect x="91" y="700" width="36" height="18" fill="#00ff9f"/><rect x="127" y="700" width="37" height="18" fill="#00ffbf"/><rect x="164" y="700" width="36" height="18" fill="#00ffdf"/><rect x="200" y="700" width="55" height="18" fill="#00efff"/><rect x="255" y="700" width="72" height="18" fill="#00dfff"/><rect x="327" y="700" width="55" height="18" fill="#00cfff"/><rect x="382" y="700" width="73" height="18" fill="#00bfff"/><rect x="455" y="700" width="36" height="18" fill="#00cfff"/><rect x="491" y="700" width="36" height="18" fill="#00dfff"/><rect x="527" y="700" width="18" height="18" fill="#00ffff"/><rect x="545" y="700" width="19" height="18" fill="#00ffdf"/><rect x="564" y="700" width="36" height="18" fill="#00ffbf"/><rect x="600" y="700" width="36" height="18" fill="#00ff9f"/><rect x="636" y="700" width="37" height="18" fill="#00ff80"/><rect x="673" y="700" width="109" height="18" fill="#00ff60"/><rect x="782" y="700" width="18" height="18" fill="#00ff40"/><rect x="0" y="718" width="73" height="18" fill="#00ff9f"/><rect x="73" y="718" width="72" height="18" fill="#00ffbf"/><rect x="145" y="718" width="19" height="18" fill="#00ffdf"/><rect x="164" y="718" width="36" height="18" fill="#00ffff"/><rect x="200" y="718" width="36" height="18" fill="#00efff"/><rect x="236" y="718" width="73" height="18" fill="#00dfff"/><rect x="309" y="718" width="18" height="18" fill="#00cfff"/><rect x="327" y="718" width="109" height="18" fill="#00bfff"/><rect x="436" y="718" width="55" height="18" fill="#00cfff"/><rect x="491" y="718" width="36" height="18" fill="#00dfff"/><rect x="527" y="718" width="18" height="18" fill="#00ffff"/><rect x="545" y="718" width="19" height="18" fill="#00ffdf"/><rect x="564" y="718" width="36" height="18" fill="#00ffbf"/><rect x="600" y="718" width="36" height="18" fill="#00ff9f"/><rect x="636" y="718" width="37" height="18" fill="#00ff80"/><rect x="673" y="718" width="109" height="18" fill="#00ff60"/><rect x="782" y="718" width="18" height="18" fill="#00ff40"/><rect x="0" y="736" width="18" height="19" fill="#00ff9f"/><rect x="18" y="736" width="91" height="19" fill="#00ffbf"/><rect x="109" y="736" width="36" height="19" fill="#00ffdf"/><rect x="145" y="736" width="37" height="19" fill="#00ffff"/><rect x="182" y="736" width="36" height="19" fill="#00efff"/><rect x="218" y="736" width="73" height="19" fill="#00dfff"/><rect x="291" y="736" width="36" height="19" fill="#00cfff"/><rect x="327" y="736" width="37" height="19" fill="#00afff"/><rect x="364" y="736" width="72" height="19" fill="#00bfff"/><rect x="436" y="736" width="37" height="19" fill="#00cfff"/><rect x="473" y="736" width="54" height="19" fill="#00dfff"/><rect x="527" y="736" width="18" height="19" fill="#00ffff"/><rect x="545" y="736" width="19" height="19" fill="#00ffdf"/><rect x="564" y="736" width="36" height="19" fill="#00ffbf"/><rect x="600" y="736" width="18" height="19" fill="#00ff9f"/><rect x="618" y="736" width="109" height="19" fill="#00ff80"/><rect x="727" y="736" width="73" height="19" fill="#00ff60"/><rect x="0" y="755" width="36" height="17" fill="#00ffbf"/><rect x="36" y="755" width="73" height="17" fill="#00ffdf"/><rect x="109" y="755" width="36" height="17" fill="#00ffff"/><rect x="145" y="755" width="55" height="17" fill="#00efff"/><rect x="200" y="755" width="73" height="17" fill="#00dfff"/><rect x="273" y="755" width="36" height="17" fill="#00cfff"/><rect x="309" y="755" width="18" height="17" fill="#00bfff"/><rect x="327" y="755" width="37" height="17" fill="#00afff"/><rect x="364" y="755" width="36" height="17" fill="#00bfff"/><rect x="400" y="755" width="55" height="17" fill="#00cfff"/><rect x="455" y="755" width="54" height="17" fill="#00dfff"/><rect x="509" y="755" width="18" height="17" fill="#00efff"/><rect x="527" y="755" width="18" height="17" fill="#00ffff"/><rect x="545" y="755" width="19" height="17" fill="#00ffdf"/><rect x="564" y="755" width="54" height="17" fill="#00ffbf"/><rect x="618" y="755" width="73" height="17" fill="#00ff9f"/><rect x="691" y="755" width="36" height="17" fill="#00ff80"/><rect x="727" y="755" width="73" height="17" fill="#00ff60"/></g>
<g stroke="#808080" stroke-width="1" shape-rendering="crispEdges"><line x1="9.5" y1="27" x2="9.5" y2="772"/><line x1="0" y1="36.5" x2="800" y2="36.5"/><line x1="81.5" y1="27" x2="81.5" y2="772"/><line x1="0" y1="109.5" x2="800" y2="109.5"/><line x1="154.5" y1="27" x2="154.5" y2="772"/><line x1="0" y1="181.5" x2="800" y2="181.5"/><line x1="227.5" y1="27" x2="227.5" y2="772"/><line x1="0" y1="254.5" x2="800" y2="254.5"/><line x1="299.5" y1="27" x2="299.5" y2="772"/><line x1="0" y1="327.5" x2="800" y2="327.5"/><line x1="372.5" y1="27" x2="372.5" y2="772"/><line x1="0" y1="400.5" x2="800" y2="400.5"/><line x1="445.5" y1="27" x2="445.5" y2="772"/><line x1="0" y1="472.5" x2="800" y2="472.5"/><line x1="518.5" y1="27" x2="518.5" y2="772"/><line x1="0" y1="545.5" x2="800" y2="545.5"/><line x1="590.5" y1="27" x2="590.5" y2="772"/><line x1="0" y1="618.5" x2="800" y2="618.5"/><line x1="663.5" y1="27" x2="663.5" y2="772"/><line x1="0" y1="690.5" x2="800" y2="690.5"/><line x1="736.5" y1="27" x2="736.5" y2="772"/><line x1="0" y1="763.5" x2="800" y2="763.5"/></g>
<path clip-path="url(#oc)" fill="none" stroke="#fff" stroke-width="1" shape-rendering="crispEdges" d="M718.69 36.4L705.94 18.32M707.37 28.17L705.94 18.32L714.74 22.97M773.24 36.4L758.05 15.14M759.81 26.76L758.05 15.14L768.48 20.58M791.42 36.4L774.84 13.21M776.77 25.89L774.84 13.21L786.22 19.14M700.51 54.58L687.86 36.43M689.23 46.29L687.86 36.43L696.63 41.13M718.69 54.58L705.99 36.46M707.39 46.32L705.99 36.46L714.78 41.14M755.05 54.58L741.12 35.04M742.73 45.72L741.12 35.04L750.7 40.04M773.24 54.58L758.04 33.33M759.8 44.96L758.04 33.33L768.47 38.76M791.42 54.58L774.83 31.41M776.76 44.09L774.83 31.41L786.21 37.32M682.33 72.76L669.79 54.53M671.1 64.4L669.79 54.53L678.53 59.29M700.51 72.76L686.93 52.98M688.34 63.68L686.93 52.98L696.41 58.15M718.69 72.76L705.03 53.03M706.49 63.73L705.03 53.03L714.53 58.16M736.87 72.76L723.07 53.13M724.61 63.82L723.07 53.13L732.61 58.19M755.05 72.76L741.13 53.21M742.73 63.89L741.13 53.21L750.7 58.22M773.24 72.76L758.03 51.52M759.8 63.14L758.03 51.52L768.46 56.94M791.42 72.76L774.89 49.68M776.82 62.36L774.89 49.68L786.27 55.59M664.15 90.95L655.11 77.74M656.04 84.88L655.11 77.74L661.42 81.2M682.33 90.95L669.96 72.6M671.18 82.48L669.96 72.6L678.66 77.44M700.51 90.95L687.14 71.01M688.44 81.74L687.14 71.01L696.57 76.29M718.69 90.95L705.25 71.06M706.59 81.78L705.25 71.06L714.69 76.3M736.87 90.95L723.23 71.2M724.68 81.9L723.23 71.2L732.73 76.34M755.05 90.95L741.21 71.34M742.77 82.03L741.21 71.34L750.76 76.39M773.24 90.95L759.29 71.41M760.9 82.09L759.29 71.41L768.87 76.41M791.42 90.95L776.22 69.7M777.99 81.32L776.22 69.7L786.64 75.13M682.33 109.13L671.81 93.16M672.77 101.71L671.81 93.16L679.28 97.42M700.51 109.13L689.32 91.95M690.31 101.12L689.32 91.95L697.31 96.56M718.69 109.13L705.57 89.03M706.74 99.77L705.57 89.03L714.93 94.42M736.87 109.13L723.57 89.15M724.84 99.88L723.57 89.15L732.98 94.45M755.05 109.13L741.45 89.35M742.88 100.06L741.45 89.35L750.94 94.52M773.24 109.13L759.41 89.51M760.96 100.2L759.41 89.51L768.96 94.56M791.42 109.13L776.29 87.83M778.02 99.46L776.29 87.83L786.7 93.29M664.15 127.31L651.91 108.87M653.06 118.76L651.91 108.87L660.58 113.78M682.33 127.31L669.32 107.14M670.43 117.88L669.32 107.14L678.65 112.58M700.51 127.31L687.64 107.05M688.67 117.8L687.64 107.05L696.93 112.56M718.69 127.31L705.85 107.03M706.87 117.78L705.85 107.03L715.13 112.55M736.87 127.31L723.94 107.09M725.01 117.84L723.94 107.09L733.25 112.57M755.05 127.31L741.86 107.26M743.07 117.99L741.86 107.26L751.24 112.61M773.24 127.31L758.53 105.72M760.03 117.38L758.53 105.72L768.83 111.38M791.42 127.31L775.14 103.92M776.9 116.62L775.14 103.92L786.44 109.98M645.96 145.49L634.32 128.62M635.55 137.76L634.32 128.62L642.43 133.02M664.15 145.49L651.98 127.01M653.09 136.9L651.98 127.01L660.63 131.95M682.33 145.49L669.44 125.25M670.48 136L669.44 125.25L678.73 130.74M700.51 145.49L687.76 125.16M688.73 135.91L687.76 125.16L697.02 130.72M718.69 145.49L705.97 125.14M706.93 135.89L705.97 125.14L715.22 130.71M736.87 145.49L724.12 125.16M725.09 135.92L724.12 125.16L733.38 130.72M755.05 145.49L742.14 125.26M743.2 136.01L742.14 125.26L751.45 130.75M773.24 145.49L760.04 125.44M761.25 136.18L760.04 125.44L769.42 130.8M791.42 145.49L776.78 123.85M778.24 135.52L776.78 123.85L787.06 129.55M645.96 163.67L634.99 148.01M636.2 156.53L634.99 148.01L642.58 152.06M664.15 163.67L651.94 145.22M653.07 155.11L651.94 145.22L660.6 150.14M682.33 163.67L669.46 143.42M670.49 154.17L669.46 143.42L678.75 148.92M700.51 163.67L687.79 143.32M688.74 154.08L687.79 143.32L697.04 148.89M718.69 163.67L705.97 143.27M706.92 154.03L705.97 143.27L715.22 148.86M736.87 163.67L724.16 143.32M725.11 154.08L724.16 143.32L733.41 148.89M755.05 163.67L742.22 143.39M743.24 154.14L742.22 143.39L751.51 148.91M773.24 163.67L760.19 143.53M761.32 154.27L760.19 143.53L769.53 148.95M791.42 163.67L776.96 141.91M778.33 153.59L776.96 141.91L787.19 147.7M627.78 181.85L615.25 165.63M616.97 174.69L615.25 165.63L623.59 169.59M645.96 181.85L632.95 163.96M634.53 173.79L632.95 163.96L641.82 168.49M664.15 181.85L650.66 162M652.02 172.72L650.66 162L660.11 167.22M682.33 181.85L669.33 161.68M670.43 172.42L669.33 161.68L678.65 167.12M700.51 181.85L687.74 161.53M688.72 172.29L687.74 161.53L697 167.08M718.69 181.85L705.97 161.5M706.93 172.26L705.97 161.5L715.22 167.08M736.87 181.85L724.12 161.52M725.09 172.28L724.12 161.52L733.38 167.08M755.05 181.85L742.18 161.6M743.22 172.35L742.18 161.6L751.48 167.1M773.24 181.85L760.18 161.72M761.31 172.46L760.18 161.72L769.52 167.14M791.42 181.85L777 160.07M778.35 171.75L777 160.07L787.23 165.87M609.6 200.04L597.98 186.29M599.84 194.17L597.98 186.29L605.44 189.44M627.78 200.04L614.82 184.16M616.78 193.17L614.82 184.16L623.26 187.89M645.96 200.04L632.43 182.53M634.29 192.31L632.43 182.53L641.43 186.8M664.15 200.04L650.11 180.57M651.78 191.24L650.11 180.57L659.71 185.52M682.33 200.04L668.91 180.14M670.24 190.85L668.91 180.14L678.35 185.39M700.51 200.04L687.47 179.89M688.6 190.63L687.47 179.89L696.81 185.31M718.69 200.04L705.79 179.8M706.84 190.55L705.79 179.8L715.09 185.29M736.87 200.04L723.95 179.81M725.01 190.56L723.95 179.81L733.25 185.29M755.05 200.04L742.02 179.89M743.14 190.63L742.02 179.89L751.35 185.31M773.24 200.04L760.05 179.98M761.25 190.71L760.05 179.98L769.43 185.34M791.42 200.04L778.11 180.06M779.38 190.79L778.11 180.06L787.52 185.36M591.42 218.22L579.4 204.82M581.49 212.64L579.4 204.82L586.95 207.74M609.6 218.22L596.89 203.93M599.08 212.25L596.89 203.93L604.9 207.07M627.78 218.22L614.31 202.76M616.57 211.71L614.31 202.76L622.87 206.22M645.96 218.22L631.77 201.25M634 210.95L631.77 201.25L640.92 205.16M664.15 218.22L649.31 199.35M651.42 209.94L649.31 199.35L659.11 203.9M682.33 218.22L668.14 198.86M669.89 209.52L668.14 198.86L677.78 203.74M700.51 218.22L686.83 198.5M688.3 209.2L686.83 198.5L696.34 203.62M718.69 218.22L705.28 198.32M706.6 209.03L705.28 198.32L714.72 203.57M736.87 218.22L723.54 198.26M724.82 208.99L723.54 198.26L732.95 203.55M755.05 218.22L741.69 198.28M742.99 209L741.69 198.28L751.12 203.56M773.24 218.22L759.83 198.31M761.15 209.03L759.83 198.31L769.26 203.57M791.42 218.22L777.98 198.33M779.32 209.05L777.98 198.33L787.43 203.57M573.24 236.4L561.01 223.19M563.22 230.98L561.01 223.19L568.61 226M591.42 236.4L577.45 221.39M580 230.26L577.45 221.39L586.11 224.57M609.6 236.4L594.49 220.24M597.26 229.8L594.49 220.24L603.84 223.64M627.78 236.4L612.72 220.19M615.46 229.76L612.72 220.19L622.07 223.63M645.96 236.4L629.87 218.59M632.7 229.02L629.87 218.59L639.96 222.46M664.15 236.4L648.53 218.18M651.08 228.67L648.53 218.18L658.51 222.31M682.33 236.4L667.3 217.69M669.51 228.26L667.3 217.69L677.14 222.13M700.51 236.4L686.01 217.28M687.93 227.91L686.01 217.28L695.72 221.99M718.69 236.4L704.56 217M706.27 227.67L704.56 217L714.18 221.91M736.87 236.4L722.96 216.85M724.55 227.53L722.96 216.85L732.52 221.86M755.05 236.4L741.27 216.76M742.8 227.45L741.27 216.76L750.8 221.83M773.24 236.4L759.55 216.69M761.02 227.39L759.55 216.69L769.06 221.81M791.42 236.4L777.83 216.62M779.25 227.33L777.83 216.62L787.31 221.79M555.05 254.58L543.74 242.58M545.83 249.7L543.74 242.58L550.72 245.09M573.24 254.58L560.86 241.52M563.16 249.28L560.86 241.52L568.49 244.23M591.42 254.58L576.08 238.63M578.99 248.16L576.08 238.63L585.49 241.91M609.6 254.58L595.28 239.91M598.04 248.72L595.28 239.91L604.02 242.88M627.78 254.58L612.3 238.77M615.29 248.27L612.3 238.77L621.74 241.96M645.96 254.58L630.65 238.62M633.54 248.14L630.65 238.62L640.05 241.9M664.15 254.58L647.97 236.85M650.85 247.26L647.97 236.85L658.07 240.67M682.33 254.58L666.74 236.34M669.27 246.83L666.74 236.34L676.71 240.48M700.51 254.58L685.41 235.92M687.67 246.49L685.41 235.92L695.27 240.33M718.69 254.58L703.96 235.63M706.01 246.24L703.96 235.63L713.73 240.23M736.87 254.58L722.43 235.41M724.32 246.05L722.43 235.41L732.13 240.16M755.05 254.58L740.87 235.22M742.62 245.88L740.87 235.22L750.51 240.1M773.24 254.58L759.28 235.05M760.9 245.73L759.28 235.05L768.86 240.05M791.42 254.58L777.68 234.9M779.18 245.6L777.68 234.9L787.21 240M209.6 272.76L192.39 267.49M198.22 273.11L192.39 267.49L200.37 266.1M555.05 272.76L543.2 260.41M545.44 267.78L543.2 260.41L550.47 262.95M573.24 272.76L559.95 259M562.48 267.23L559.95 259L568.09 261.82M591.42 272.76L577.04 258.15M579.83 266.94L577.04 258.15L585.79 261.08M609.6 272.76L596.06 259.26M598.74 267.43L596.06 259.26L604.25 261.92M627.78 272.76L613.22 258.33M616.12 267.09L613.22 258.33L622.01 261.15M645.96 272.76L631.5 258.23M634.34 267.01L631.5 258.23L640.27 261.12M664.15 272.76L648.97 256.66M651.78 266.21L648.97 256.66L658.34 260.03M682.33 272.76L667.77 256.1M670.21 265.76L667.77 256.1L677 259.82M700.51 272.76L686.36 255.75M688.57 265.46L686.36 255.75L695.51 259.69M718.69 272.76L703.63 254.08M705.86 264.64L703.63 254.08L713.48 258.51M736.87 272.76L722.09 253.86M724.17 264.46L722.09 253.86L731.87 258.43M755.05 272.76L740.58 253.62M742.49 264.25L740.58 253.62L750.29 258.35M773.24 272.76L759.09 253.38M760.81 264.04L759.09 253.38L768.72 258.27M791.42 272.76L777.6 253.14M779.14 263.83L777.6 253.14L787.14 258.2M209.6 290.95L189.99 284.99M196.64 291.37L189.99 284.99L199.07 283.38M227.78 290.95L209.42 285.4M215.64 291.35L209.42 285.4L217.89 283.89M245.96 290.95L228.74 285.71M234.58 291.32L228.74 285.71L236.72 284.3M264.15 290.95L248.4 286M253.71 291.19L248.4 286L255.73 284.78M282.33 290.95L265.97 285.88M271.5 291.24L265.97 285.88L273.57 284.58M536.87 290.95L525.26 279.22M527.53 286.29L525.26 279.22L532.31 281.56M555.05 290.95L543.08 278.71M545.39 286.06L543.08 278.71L550.38 281.18M573.24 290.95L560.63 278.1M563.07 285.82L560.63 278.1L568.3 280.68M591.42 290.95L577.92 277.4M580.57 285.58L577.92 277.4L586.1 280.08M609.6 290.95L596.01 277.49M598.72 285.66L596.01 277.49L604.2 280.12M627.78 290.95L614.2 277.56M616.93 285.72L614.2 277.56L622.4 280.17M645.96 290.95L632.4 277.46M635.1 285.63L632.4 277.46L640.59 280.11M664.15 290.95L650.09 276.02M652.69 284.87L650.09 276.02L658.77 279.14M682.33 290.95L668.94 275.42M671.15 284.38L668.94 275.42L677.47 278.92M700.51 290.95L687.39 275.19M689.44 284.19L687.39 275.19L695.86 278.84M718.69 290.95L704.67 273.83M706.81 283.56L704.67 273.83L713.78 277.84M736.87 290.95L723.05 273.67M725.08 283.42L723.05 273.67L732.12 277.78M755.05 290.95L741.55 273.42M743.39 283.21L741.55 273.42L750.54 277.7M773.24 290.95L760.1 273.14M761.74 282.96L760.1 273.14L769 277.61M791.42 290.95L778.67 272.86M780.1 282.72L778.67 272.86L787.47 277.52M227.78 309.13L212 304.32M217.35 309.47L212 304.32L219.31 303.03M245.96 309.13L224.82 302.6M231.97 309.53L224.82 302.6L234.63 300.91M264.15 309.13L243.05 302.47M250.15 309.44L243.05 302.47L252.87 300.84M282.33 309.13L261.17 302.66M268.34 309.57L261.17 302.66L270.97 300.94M300.51 309.13L283.23 303.91M289.08 309.51L283.23 303.91L291.2 302.48M318.69 309.13L304.35 304.73M309.21 309.41L304.35 304.73L311 303.57M500.51 309.13L490.28 299.56M492.44 305.48L490.28 299.56L496.34 301.32M518.69 309.13L507.12 298.07M509.51 304.86L507.12 298.07L514.02 300.15M536.87 309.13L525.3 297.9M527.65 304.76L525.3 297.9L532.23 300.05M555.05 309.13L543.33 297.51M545.67 304.56L543.33 297.51L550.4 299.78M573.24 309.13L561.11 297.04M563.51 304.36L561.11 297.04L568.44 299.42M591.42 309.13L578.57 296.52M581.15 304.2L578.57 296.52L586.29 298.96M609.6 309.13L596.74 296.53M599.33 304.2L596.74 296.53L604.47 298.96M627.78 309.13L614.98 296.48M617.54 304.16L614.98 296.48L622.69 298.94M645.96 309.13L633.3 296.33M635.77 304.05L633.3 296.33L640.99 298.89M664.15 309.13L651.31 294.95M653.57 303.26L651.31 294.95L659.35 298.02M682.33 309.13L670.03 294.48M671.98 302.86L670.03 294.48L677.95 297.85M700.51 309.13L688.29 294.42M690.19 302.81L688.29 294.42L696.19 297.83M718.69 309.13L705.63 293.32M707.65 302.33L705.63 293.32L714.09 297M736.87 309.13L723.98 293.19M725.9 302.21L723.98 293.19L732.4 296.96M755.05 309.13L742.48 292.94M744.22 302L742.48 292.94L750.82 296.87M773.24 309.13L760.11 291.32M761.75 301.14L760.11 291.32L769 295.79M791.42 309.13L778.75 290.99M780.14 300.85L778.75 290.99L787.53 295.68M264.15 327.31L247.86 322M253.31 327.45L247.86 322L255.48 320.81M282.33 327.31L265.15 321.94M270.95 327.59L265.15 321.94L273.13 320.59M300.51 327.31L282.23 321.7M288.42 327.68L282.23 321.7L290.7 320.22M318.69 327.31L300.46 321.51M306.6 327.55L300.46 321.51L308.96 320.13M336.87 327.31L319.97 321.11M325.49 327.04L319.97 321.11L328.02 320.15M355.05 327.31L340.05 320.44M344.67 326.25L340.05 320.44L347.47 320.14M373.24 327.31L358.77 319.38M362.96 325.51L358.77 319.38L366.19 319.61M391.42 327.31L377.25 318.86M381.21 325.14L377.25 318.86L384.66 319.36M409.6 327.31L394.95 318.44M399.02 324.99L394.95 318.44L402.63 319.01M427.78 327.31L413.17 318.39M417.21 324.94L413.17 318.39L420.85 318.99M445.96 327.31L433.37 319.16M436.76 325L433.37 319.16L440.08 319.86M464.15 327.31L452.89 318.98M455.71 324.62L452.89 318.98L459.1 320.03M482.33 327.31L470.93 317.56M473.51 323.79L470.93 317.56L477.49 319.15M500.51 327.31L489.42 317.21M491.81 323.52L489.42 317.21L495.93 319M518.69 327.31L506.83 316.57M509.4 323.29L506.83 316.57L513.78 318.46M536.87 327.31L525 316.58M527.58 323.3L525 316.58L531.95 318.47M555.05 327.31L543.32 316.25M545.77 323.08L543.32 316.25L550.28 318.29M573.24 327.31L561.4 315.82M563.8 322.84L561.4 315.82L568.49 318.01M591.42 327.31L578.87 315.65M581.53 322.89L578.87 315.65L586.28 317.77M609.6 327.31L596.25 315.23M599.15 322.8L596.25 315.23L604.07 317.36M627.78 327.31L614.7 314.95M617.43 322.57L614.7 314.95L622.47 317.24M645.96 327.31L633.43 314.38M635.83 322.12L633.43 314.38L641.1 317.02M664.15 327.31L652.31 313.74M654.3 321.6L652.31 313.74L659.83 316.77M682.33 327.31L670.81 313.47M672.61 321.37L670.81 313.47L678.25 316.68M700.51 327.31L688.27 312.58M690.18 320.98L688.27 312.58L696.17 315.99M718.69 327.31L706.49 312.58M708.38 320.98L706.49 312.58L714.39 316M736.87 327.31L724.84 312.44M726.64 320.86L724.84 312.44L732.7 315.96M755.05 327.31L743.38 312.16M744.97 320.62L743.38 312.16L751.15 315.86M773.24 327.31L761.21 310.71M762.65 319.82L761.21 310.71L769.41 314.92M791.42 327.31L779.89 310.36M781.06 319.51L779.89 310.36L787.97 314.81M300.51 345.49L283.47 339.67M289.12 345.48L283.47 339.67L291.49 338.54M318.69 345.49L301.78 339.31M307.31 345.24L301.78 339.31L309.83 338.35M336.87 345.49L320.3 338.47M325.52 344.67L320.3 338.47L328.38 337.91M355.05 345.49L340.29 338.13M344.71 344.09L340.29 338.13L347.71 338.07M373.24 345.49L358.85 337.41M362.98 343.58L358.85 337.41L366.27 337.72M391.42 345.49L377.19 337.13M381.2 343.38L377.19 337.13L384.61 337.58M409.6 345.49L395.75 337.48M399.67 343.52L395.75 337.48L402.94 337.87M427.78 345.49L413.89 337.55M417.85 343.57L413.89 337.55L421.08 337.91M445.96 345.49L433.07 337.83M436.68 343.53L433.07 337.83L439.8 338.27M464.15 345.49L451.83 336.93M455.03 342.87L451.83 336.93L458.52 337.85M482.33 345.49L470.88 335.8M473.5 342.02L470.88 335.8L477.45 337.35M500.51 345.49L488.59 334.82M491.2 341.53L488.59 334.82L495.55 336.67M518.69 345.49L506.52 335.11M509.28 341.76L506.52 335.11L513.52 336.79M536.87 345.49L524.57 335.27M527.42 341.88L524.57 335.27L531.59 336.86M555.05 345.49L542.96 334.83M545.64 341.57L542.96 334.83L549.98 336.64M573.24 345.49L561.65 334.27M564.01 341.13L561.65 334.27L568.59 336.41M591.42 345.49L579.2 334.4M581.84 341.34L579.2 334.4L586.36 336.36M609.6 345.49L597.23 334.6M599.97 341.5L597.23 334.6L604.42 336.45M627.78 345.49L615.58 334.38M618.21 341.32L615.58 334.38L622.74 336.35M645.96 345.49L634.56 333.57M636.7 340.68L634.56 333.57L641.56 336.03M664.15 345.49L653.06 332.44M654.85 339.94L653.06 332.44L660.17 335.42M682.33 345.49L671.43 332.28M673.11 339.8L671.43 332.28L678.49 335.36M700.51 345.49L689.59 332.3M691.28 339.81L689.59 332.3L696.66 335.37M718.69 345.49L707.28 331.57M709.02 339.48L707.28 331.57L714.7 334.83M736.87 345.49L725.7 331.38M727.3 339.32L725.7 331.38L733.06 334.76M755.05 345.49L744.28 331.07M745.67 339.05L744.28 331.07L751.54 334.66M773.24 345.49L762.31 329.79M763.5 338.32L762.31 329.79L769.89 333.86M791.42 345.49L781.01 329.45M781.92 338L781.01 329.45L788.46 333.76M300.51 363.67L284.68 357.14M289.7 362.99L284.68 357.14L292.36 356.53M318.69 363.67L303.59 357.02M308.29 362.77L303.59 357.02L311 356.61M336.87 363.67L321.98 356.58M326.51 362.46L321.98 356.58L329.4 356.39M355.05 363.67L340.37 356.15M344.73 362.16L340.37 356.15L347.79 356.18M373.24 363.67L358.81 355.67M362.97 361.82L358.81 355.67L366.23 355.94M391.42 363.67L377.16 355.37M381.19 361.61L377.16 355.37L384.57 355.8M409.6 363.67L395.7 355.75M399.66 361.76L395.7 355.75L402.89 356.1M427.78 363.67L413.86 355.83M417.85 361.82L413.86 355.83L421.06 356.14M445.96 363.67L432.98 356.17M436.66 361.83L432.98 356.17L439.72 356.53M464.15 363.67L451.81 355.14M455.02 361.08L451.81 355.14L458.5 356.05M482.33 363.67L471.04 353.79M473.56 360.06L471.04 353.79L477.58 355.46M500.51 363.67L489.42 353.57M491.81 359.88L489.42 353.57L495.93 355.36M518.69 363.67L507.17 354.07M509.83 360.27L507.17 354.07L513.75 355.57M536.87 363.67L525.17 354.22M527.93 360.38L525.17 354.22L531.78 355.63M555.05 363.67L542.93 353.23M545.67 359.89L542.93 353.23L549.92 354.95M573.24 363.67L562.18 352.11M564.26 359L562.18 352.11L568.97 354.49M591.42 363.67L580 352.28M582.26 359.18L580 352.28L586.9 354.53M609.6 363.67L597.78 352.71M600.29 359.52L597.78 352.71L604.75 354.7M627.78 363.67L616.34 352.31M618.61 359.2L616.34 352.31L623.24 354.54M645.96 363.67L635.42 351.47M637.16 358.52L635.42 351.47L642.14 354.22M664.15 363.67L653.92 350.72M655.39 358L653.92 350.72L660.67 353.83M682.33 363.67L672.17 350.67M673.6 357.96L672.17 350.67L678.9 353.82M700.51 363.67L690.3 350.71M691.75 357.99L690.3 350.71L697.03 353.83M718.69 363.67L708.18 350.15M709.64 357.72L708.18 350.15L715.16 353.43M736.87 363.67L726.65 349.93M727.95 357.53L726.65 349.93L733.55 353.36M755.05 363.67L745.26 349.62M746.33 357.25L745.26 349.62L752.06 353.26M773.24 363.67L763.46 348.56M764.3 356.61L763.46 348.56L770.47 352.63M791.42 363.67L782.14 348.25M782.72 356.33L782.14 348.25L789.01 352.55M282.33 381.85L268.74 375.51M272.9 380.82L268.74 375.51L275.48 375.28M300.51 381.85L285.96 374.9M290.38 380.65L285.96 374.9L293.22 374.72M318.69 381.85L304.17 374.85M308.57 380.62L304.17 374.85L311.42 374.7M336.87 381.85L322.3 374.95M326.74 380.69L322.3 374.95L329.56 374.75M355.05 381.85L340.48 374.95M344.92 380.69L340.48 374.95L347.74 374.75M373.24 381.85L358.89 374.49M363.15 380.37L358.89 374.49L366.15 374.52M391.42 381.85L377.44 373.82M381.41 379.89L377.44 373.82L384.68 374.19M409.6 381.85L395.78 373.79M399.68 379.84L395.78 373.79L402.97 374.21M427.78 381.85L413.92 373.87M417.85 379.9L413.92 373.87L421.11 374.25M445.96 381.85L433.18 374.01M436.71 379.76L433.18 374.01L439.91 374.55M464.15 381.85L452.28 372.67M455.17 378.78L452.28 372.67L458.91 373.94M482.33 381.85L471.59 371.38M473.77 377.77L471.59 371.38L478.04 373.39M500.51 381.85L489.95 371.2M492.02 377.62L489.95 371.2L496.36 373.32M518.69 381.85L507.61 371.75M509.99 378.06L507.61 371.75L514.11 373.54M536.87 381.85L525.56 372.01M528.09 378.27L525.56 372.01L532.1 373.65M555.05 381.85L544.72 370.98M546.65 377.45L544.72 370.98L551.08 373.24M573.24 381.85L563.15 369.44M564.66 376.47L563.15 369.44L569.73 372.36M591.42 381.85L581.36 369.41M582.86 376.45L581.36 369.41L587.93 372.35M609.6 381.85L599.5 369.45M601.02 376.48L599.5 369.45L606.08 372.37M627.78 381.85L618.06 369.15M619.37 376.23L618.06 369.15L624.55 372.26M645.96 381.85L636.7 368.81M637.76 375.93L636.7 368.81L643.07 372.16M664.15 381.85L654.95 368.61M655.94 375.79L654.95 368.61L661.34 372.05M682.33 381.85L673.11 368.63M674.11 375.81L673.11 368.63L679.5 372.05M700.51 381.85L691.23 368.66M692.27 375.85L691.23 368.66L697.64 372.07M718.69 381.85L709.28 368.3M710.3 375.65L709.28 368.3L715.82 371.82M736.87 381.85L727.74 368.11M728.6 375.49L727.74 368.11L734.2 371.76M755.05 381.85L746.33 367.85M746.98 375.25L746.33 367.85L752.69 371.69M773.24 381.85L764.67 367.03M765.08 374.72L764.67 367.03L771.13 371.23M791.42 381.85L783.3 366.78M783.48 374.48L783.3 366.78L789.63 371.17M282.33 400.04L269.88 393.63M273.57 398.74L269.88 393.63L276.18 393.67M300.51 400.04L286.28 392.72M290.5 398.56L286.28 392.72L293.48 392.76M318.69 400.04L304.31 393.03M308.65 398.77L304.31 393.03L311.51 392.91M336.87 400.04L322.23 393.59M326.79 399.16L322.23 393.59L329.42 393.19M355.05 400.04L340.29 393.87M344.96 399.35L340.29 393.87L347.47 393.33M373.24 400.04L358.66 393.43M363.16 399.05L358.66 393.43L365.85 393.11M391.42 400.04L377.41 392.31M381.45 398.26L377.41 392.31L384.6 392.55M409.6 400.04L396.04 391.54M399.75 397.71L396.04 391.54L403.21 392.18M427.78 400.04L414.44 391.2M417.99 397.46L414.44 391.2L421.6 392.03M445.96 400.04L434.01 390.97M436.96 397.05L434.01 390.97L440.65 392.17M464.15 400.04L453.37 389.6M455.57 395.98L453.37 389.6L459.82 391.59M482.33 400.04L472.55 388.66M474.15 395.22L472.55 388.66L478.79 391.23M500.51 400.04L490.98 388.45M492.44 395.04L490.98 388.45L497.17 391.16M518.69 400.04L508.97 388.61M510.54 395.18L508.97 388.61L515.2 391.21M536.87 400.04L527.15 388.61M528.72 395.18L527.15 388.61L533.38 391.22M555.05 400.04L545.72 388.29M547.07 394.91L545.72 388.29L551.86 391.1M573.24 400.04L563.94 388.34M565.29 394.95L563.94 388.34L570.07 391.15M591.42 400.04L581.8 387.25M583.05 394.34L581.8 387.25L588.26 390.42M609.6 400.04L601.65 387.32M602.25 394.04L601.65 387.32L607.43 390.8M627.78 400.04L619.25 386.5M619.91 393.67L619.25 386.5L625.43 390.19M645.96 400.04L637.2 386.65M637.99 393.8L637.2 386.65L643.45 390.23M664.15 400.04L655.42 386.62M656.19 393.78L655.42 386.62L661.66 390.23M682.33 400.04L673.72 386.55M674.42 393.71L673.72 386.55L679.92 390.21M700.51 400.04L692.03 386.47M692.67 393.64L692.03 386.47L698.2 390.18M718.69 400.04L710.34 386.24M710.88 393.48L710.34 386.24L716.5 390.07M736.87 400.04L728.85 386.05M729.22 393.3L728.85 386.05L734.92 390.03M755.05 400.04L747.45 385.82M747.6 393.07L747.45 385.82L753.4 389.97M773.24 400.04L765.91 385.25M765.84 392.68L765.91 385.25L771.86 389.69M791.42 400.04L784.48 385.06M784.21 392.48L784.48 385.06L790.32 389.66M300.51 418.22L289.97 412.49M293.03 416.94L289.97 412.49L295.36 412.64M318.69 418.22L307.11 412.31M310.55 417.04L307.11 412.31L312.96 412.32M336.87 418.22L324.03 412.65M328.05 417.5L324.03 412.65L330.32 412.27M355.05 418.22L341.1 412.67M345.57 417.73L341.1 412.67L347.83 412.05M373.24 418.22L359.5 412.2M363.78 417.41L359.5 412.2L366.24 411.81M391.42 418.22L378.33 410.89M382.09 416.5L378.33 410.89L385.07 411.16M409.6 418.22L398.05 410.31M401.07 415.83L398.05 410.31L404.3 411.13M427.78 418.22L416.87 409.44M419.46 415.19L416.87 409.44L423.04 410.74M445.96 418.22L435.91 408.48M437.96 414.44L435.91 408.48L441.93 410.34M464.15 418.22L454.45 406.78M456.01 413.34L454.45 406.78L460.67 409.39M482.33 418.22L473.22 406.3M474.44 412.94L473.22 406.3L479.3 409.23M500.51 418.22L491.51 406.22M492.68 412.86L491.51 406.22L497.57 409.2M518.69 418.22L509.84 406.11M510.92 412.77L509.84 406.11L515.86 409.16M536.87 418.22L528.49 405.78M529.32 412.48L528.49 405.78L534.39 409.06M555.05 418.22L546.58 405.84M547.46 412.53L546.58 405.84L552.51 409.08M573.24 418.22L564.44 406.07M565.49 412.74L564.44 406.07L570.44 409.15M591.42 418.22L584.02 405.17M584.33 411.91L584.02 405.17L589.64 408.9M609.6 418.22L603.63 404.46M603.22 411.2L603.63 404.46L608.83 408.76M627.78 418.22L620.23 405.26M620.62 412L620.23 405.26L625.9 408.92M645.96 418.22L637.71 405.77M638.49 412.47L637.71 405.77L643.59 409.1M664.15 418.22L655.99 405.63M656.7 412.34L655.99 405.63L661.83 409.02M682.33 418.22L674.55 405.39M675.05 412.13L674.55 405.39L680.28 408.95M700.51 418.22L692.64 404.28M692.96 411.48L692.64 404.28L698.64 408.27M718.69 418.22L711.26 404.05M711.35 411.25L711.26 404.05L717.13 408.22M736.87 418.22L729.92 403.81M729.77 411.01L729.92 403.81L735.64 408.17M755.05 418.22L748.56 403.46M748.16 410.71L748.56 403.46L754.17 408.06M773.24 418.22L767.19 403.27M766.57 410.5L767.19 403.27L772.66 408.03M791.42 418.22L785.69 403.15M784.92 410.36L785.69 403.15L791.06 408.03M336.87 436.4L324.91 429.13M328.23 434.49L324.91 429.13L331.19 429.61M355.05 436.4L343.09 429.12M346.41 434.48L343.09 429.12L349.38 429.6M373.24 436.4L361.31 429.06M364.6 434.44L361.31 429.06L367.59 429.58M391.42 436.4L379.71 428.72M382.84 434.19L379.71 428.72L385.97 429.42M409.6 436.4L399.28 428.49M401.81 433.77L399.28 428.49L405.03 429.56M427.78 436.4L417.58 426.81M419.72 432.74L417.58 426.81L423.63 428.58M445.96 436.4L436.73 425.88M438.29 431.98L436.73 425.88L442.58 428.22M464.15 436.4L455.6 425.31M456.77 431.5L455.6 425.31L461.29 428.02M482.33 436.4L473.95 425.18M475.03 431.39L473.95 425.18L479.6 427.98M500.51 436.4L492.11 425.2M493.2 431.41L492.11 425.2L497.76 427.98M518.69 436.4L510.54 425.02M511.49 431.25L510.54 425.02L516.13 427.92M536.87 436.4L530.29 424.05M530.41 430.34L530.29 424.05L535.45 427.66M555.05 436.4L549.1 423.73M548.91 430.02L549.1 423.73L554.07 427.6M573.24 436.4L566.61 422.94M566.53 429.69L566.61 422.94L572.01 426.99M591.42 436.4L585.71 422.53M585.17 429.26L585.71 422.53L590.83 426.93M609.6 436.4L604.7 423.24M603.99 429.5L604.7 423.24L609.33 427.51M627.78 436.4L622.11 423.6M621.78 429.89L622.11 423.6L627 427.58M645.96 436.4L638.63 424.47M639.14 430.75L638.63 424.47L644.01 427.76M664.15 436.4L656.9 424.42M657.37 430.7L656.9 424.42L662.25 427.75M682.33 436.4L675.1 423.26M675.32 430L675.1 423.26L680.68 427.06M700.51 436.4L693.87 422.95M693.79 429.7L693.87 422.95L699.28 426.99M718.69 436.4L712.64 422.67M712.27 429.41L712.64 422.67L717.87 426.95M736.87 436.4L731.07 421.49M730.36 428.65L731.07 421.49L736.44 426.29M755.05 436.4L749.86 421.27M748.86 428.4L749.86 421.27L755.03 426.28M773.24 436.4L768.44 421M767.23 428.16L768.44 421L773.5 426.2M791.42 436.4L786.72 420.58M785.38 427.89L786.72 420.58L791.83 425.97M336.87 454.58L326 445.76M328.56 451.52L326 445.76L332.16 447.09M355.05 454.58L344.55 445.48M346.93 451.32L344.55 445.48L350.67 447M373.24 454.58L362.41 445.7M364.94 451.47L362.41 445.7L368.56 447.06M391.42 454.58L380.32 446.05M383.03 451.73L380.32 446.05L386.51 447.21M409.6 454.58L399.79 446.05M401.99 451.47L399.79 446.05L405.47 447.47M427.78 454.58L418.98 445.01M420.56 450.65L418.98 445.01L424.46 447.06M445.96 454.58L437.44 443.48M438.59 449.67L437.44 443.48L443.12 446.2M464.15 454.58L456.03 443.17M456.96 449.4L456.03 443.17L461.61 446.1M482.33 454.58L474.16 443.21M475.12 449.44L474.16 443.21L479.75 446.11M500.51 454.58L492.28 443.25M493.27 449.48L492.28 443.25L497.89 446.12M518.69 454.58L511.17 442.77M511.78 449.04L511.17 442.77L516.6 445.98M536.87 454.58L531.04 441.86M530.79 448.15L531.04 441.86L535.97 445.77M555.05 454.58L549.45 441.7M549.08 447.99L549.45 441.7L554.31 445.72M573.24 454.58L567.67 441.73M567.29 448.02L567.67 441.73L572.52 445.76M591.42 454.58L585.97 440.61M585.31 447.32L585.97 440.61L591 445.1M609.6 454.58L604.7 441.47M604 447.73L604.7 441.47L609.34 445.73M627.78 454.58L622.64 441.56M622.05 447.83L622.64 441.56L627.36 445.74M645.96 454.58L640.12 441.86M639.87 448.16L640.12 441.86L645.05 445.77M664.15 454.58L657.72 441.03M657.53 447.78L657.72 441.03L663.06 445.16M682.33 454.58L676.29 440.85M675.91 447.59L676.29 440.85L681.51 445.13M700.51 454.58L695.01 440.63M694.37 447.35L695.01 440.63L700.06 445.1M718.69 454.58L713.77 440.41M712.86 447.1L713.77 440.41L718.63 445.09M736.87 454.58L732.32 439.24M731.02 446.32L732.32 439.24L737.28 444.47M755.05 454.58L751.13 439.07M749.55 446.09L751.13 439.07L755.87 444.49M773.24 454.58L769.64 438.86M767.88 445.9L769.64 438.86L774.29 444.44M791.42 454.58L787.8 438.48M785.97 445.68L787.8 438.48L792.53 444.2M336.87 472.76L326.54 464.88M329.08 470.15L326.54 464.88L332.29 465.94M355.05 472.76L345.06 464.45M347.38 469.82L345.06 464.45L350.77 465.75M373.24 472.76L363.16 464.55M365.53 469.9L363.16 464.55L368.87 465.79M391.42 472.76L381.4 464.48M383.73 469.84L381.4 464.48L387.11 465.76M409.6 472.76L401.08 464.31M402.78 469.44L401.08 464.31L406.22 465.97M427.78 472.76L420.41 463.29M421.44 468.59L420.41 463.29L425.3 465.59M445.96 472.76L438.89 461.86M439.5 467.68L438.89 461.86L443.95 464.79M464.15 472.76L457.38 461.67M457.83 467.5L457.38 461.67L462.35 464.74M482.33 472.76L475.49 461.71M475.98 467.54L475.49 461.71L480.49 464.75M500.51 472.76L493.77 461.65M494.21 467.48L493.77 461.65L498.74 464.73M518.69 472.76L512.34 460.29M512.34 466.59L512.34 460.29L517.43 464M536.87 472.76L531.46 459.85M531 466.14L531.46 459.85L536.26 463.93M555.05 472.76L549.74 459.81M549.23 466.09L549.74 459.81L554.51 463.92M573.24 472.76L568.34 459.65M567.63 465.91L568.34 459.65L572.97 463.91M591.42 472.76L587.54 459.31M586.35 465.5L587.54 459.31L591.83 463.92M609.6 472.76L606.09 458.18M604.52 464.75L606.09 458.18L610.47 463.32M627.78 472.76L623.86 458.29M622.48 464.89L623.86 458.29L628.39 463.29M645.96 472.76L641.5 458.44M640.37 465.1L641.5 458.44L646.21 463.28M664.15 472.76L659.69 458.44M658.56 465.09L659.69 458.44L664.4 463.28M682.33 472.76L678.1 458.37M676.86 465.01L678.1 458.37L682.73 463.28M700.51 472.76L696.18 457.36M694.78 464.42L696.18 457.36L701.06 462.66M718.69 472.76L714.69 457.27M713.14 464.3L714.69 457.27L719.45 462.67M736.87 472.76L733.4 457.02M731.58 464.04L733.4 457.02L738 462.63M755.05 472.76L752.01 456.55M749.93 463.67L752.01 456.55L756.54 462.43M773.24 472.76L770.41 456.51M768.23 463.61L770.41 456.51L774.85 462.45M791.42 472.76L788.54 456.52M786.38 463.62L788.54 456.52L793.01 462.45M318.69 490.95L308.2 487.63M311.73 491.1L308.2 487.63L313.09 486.82M336.87 490.95L326.94 486.23M329.96 490.14L326.94 486.23L331.89 486.09M355.05 490.95L345.86 484.91M348.32 489.21L345.86 484.91L350.78 485.46M373.24 490.95L364.43 484.35M366.62 488.79L364.43 484.35L369.31 485.2M391.42 490.95L382.38 483.05M384.4 488.06L382.38 483.05L387.61 484.38M409.6 490.95L402.33 482.69M403.56 487.48L402.33 482.69L406.93 484.52M427.78 490.95L421.7 481.78M422.27 486.7L421.7 481.78L426.01 484.22M445.96 490.95L440.07 480.49M440.31 485.89L440.07 480.49L444.57 483.48M464.15 490.95L458.43 480.39M458.57 485.79L458.43 480.39L462.87 483.46M482.33 490.95L476.59 480.4M476.75 485.8L476.59 480.4L481.04 483.46M500.51 490.95L494.61 479.36M494.61 485.21L494.61 479.36L499.34 482.81M518.69 490.95L513.99 478.82M513.41 484.64L513.99 478.82L518.35 482.73M536.87 490.95L533.4 477.38M532.03 483.53L533.4 477.38L537.56 482.12M555.05 490.95L552.31 477.22M550.61 483.29L552.31 477.22L556.21 482.17M573.24 490.95L570.03 477.32M568.54 483.44L570.03 477.32L574.09 482.13M591.42 490.95L588.37 477.28M586.81 483.38L588.37 477.28L592.38 482.14M609.6 490.95L606.6 476.25M604.81 482.75L606.6 476.25L610.8 481.53M627.78 490.95L624.64 476.28M622.91 482.8L624.64 476.28L628.89 481.52M645.96 490.95L643.05 476.23M641.22 482.73L643.05 476.23L647.22 481.54M664.15 490.95L661.85 475.11M659.55 481.93L661.85 475.11L666 481M682.33 490.95L680.04 475.11M677.73 481.93L680.04 475.11L684.18 481M700.51 490.95L697.75 475.19M695.64 482.07L697.75 475.19L702.07 480.95M718.69 490.95L715.67 475.11M713.65 482.08L715.67 475.11L720.11 480.85M736.87 490.95L734.08 475.06M731.96 482.01L734.08 475.06L738.44 480.87M755.05 490.95L752.47 474.65M750.19 481.71L752.47 474.65L756.83 480.66M773.24 490.95L770.73 474.64M768.41 481.69L770.73 474.64L775.06 480.67M791.42 490.95L788.76 474.03M786.38 481.36L788.76 474.03L793.28 480.27M300.51 509.13L290.62 507.66M294.29 510.27L290.62 507.66L294.88 506.23M318.69 509.13L307.78 507.76M311.88 510.53L307.78 507.76L312.43 506.08M336.87 509.13L326.06 507.11M329.99 510.12L326.06 507.11L330.81 505.71M355.05 509.13L344.83 505.06M348.11 508.78L344.83 505.06L349.76 504.61M373.24 509.13L364.03 503.11M366.5 507.4L364.03 503.11L368.95 503.65M391.42 509.13L383.31 501.69M385.05 506.33L383.31 501.69L388.08 503.02M409.6 509.13L403.37 501.3M404.28 505.71L403.37 501.3L407.46 503.17M427.78 509.13L422.56 500.6M422.92 505.08L422.56 500.6L426.39 502.96M445.96 509.13L440.72 499.46M440.86 504.4L440.72 499.46L444.8 502.27M464.15 509.13L458.51 498.57M458.62 503.97L458.51 498.57L462.93 501.66M482.33 509.13L476.69 498.54M476.79 503.94L476.69 498.54L481.11 501.64M500.51 509.13L494.91 497.39M494.77 503.24L494.91 497.39L499.55 500.96M518.69 509.13L514.76 496.74M513.81 502.51L514.76 496.74L518.86 500.91M536.87 509.13L534.4 495.35M532.58 501.38L534.4 495.35L538.2 500.37M555.05 509.13L552.95 495.27M550.97 501.25L552.95 495.27L556.62 500.39M573.24 509.13L570.82 495.34M568.98 501.36L570.82 495.34L574.6 500.38M591.42 509.13L588.21 494.47M586.51 501.01L588.21 494.47L592.48 499.7M609.6 509.13L606.31 493.47M604.44 500.42L606.31 493.47L610.82 499.08M627.78 509.13L624.78 493.41M622.78 500.33L624.78 493.41L629.19 499.1M645.96 509.13L644.73 493.17M641.98 499.83L644.73 493.17L648.48 499.32M664.15 509.13L663.8 493.01M660.65 499.54L663.8 493.01L667.23 499.4M682.33 509.13L681.66 493.02M678.65 499.62L681.66 493.02L685.21 499.34M700.51 509.13L698.92 493.08M696.29 499.84L698.92 493.08L702.83 499.19M718.69 509.13L716.32 492.8M713.95 499.83L716.32 492.8L720.6 498.87M736.87 509.13L734.34 492.82M732.04 499.88L734.34 492.82L738.68 498.85M755.05 509.13L752.57 492.82M750.24 499.87L752.57 492.82L756.89 498.85M773.24 509.13L770.67 492.17M768.25 499.49L770.67 492.17L775.15 498.44M791.42 509.13L788.83 492.2M786.42 499.52L788.83 492.2L793.32 498.46M282.33 527.31L270.52 525.15M274.82 528.43L270.52 525.15L275.7 523.61M300.51 527.31L289.58 526.04M293.71 528.78L289.58 526.04L294.22 524.32M318.69 527.31L307.8 526.21M311.97 528.88L307.8 526.21L312.42 524.42M336.87 527.31L326.95 526.07M330.68 528.59L326.95 526.07L331.18 524.54M355.05 527.31L345.47 524.47M348.73 527.56L345.47 524.47L349.89 523.65M373.24 527.31L364.75 522.03M367.08 525.88L364.75 522.03L369.23 522.42M391.42 527.31L384.28 520.3M385.72 524.57L384.28 520.3L388.57 521.66M409.6 527.31L404.2 520.11M404.9 524.1L404.2 520.11L407.83 521.9M427.78 527.31L422.6 518.75M422.94 523.24L422.6 518.75L426.42 521.13M445.96 527.31L440.7 517.65M440.84 522.6L440.7 517.65L444.78 520.45M464.15 527.31L458.96 517.61M459.06 522.56L458.96 517.61L463.02 520.44M482.33 527.31L476.77 516.67M476.83 522.07L476.77 516.67L481.17 519.81M500.51 527.31L495.11 515.48M494.87 521.33L495.11 515.48L499.69 519.13M518.69 527.31L514.76 514.92M513.81 520.69L514.76 514.92L518.86 519.09M536.87 527.31L534.1 513.59M532.42 519.66L534.1 513.59L538.01 518.53M555.05 527.31L552.72 513.5M550.85 519.52L552.72 513.5L556.47 518.57M573.24 527.31L570.45 512.57M568.56 519.05L570.45 512.57L574.57 517.92M591.42 527.31L588.19 512.66M586.5 519.2L588.19 512.66L592.47 517.88M609.6 527.31L606.25 511.15M604.3 518.32L606.25 511.15L610.88 516.95M627.78 527.31L625.56 510.96M623.12 517.97L625.56 510.96L629.78 517.07M645.96 527.31L645.61 510.81M642.39 517.5L645.61 510.81L649.11 517.36M664.15 527.31L664.15 510.81M660.78 517.43L664.15 510.81L667.51 517.43M682.33 527.31L682.12 510.81M678.84 517.47L682.12 510.81L685.56 517.39M700.51 527.31L699.43 510.84M696.51 517.67L699.43 510.84L703.22 517.23M718.69 527.31L716.8 510.29M714.09 517.5L716.8 510.29L721.03 516.73M736.87 527.31L734.63 510.33M732.07 517.6L734.63 510.33L738.99 516.69M755.05 527.31L752.57 510.37M750.11 517.67L752.57 510.37L757.02 516.66M773.24 527.31L770.68 510.38M768.26 517.69L770.68 510.38L775.16 516.65M791.42 527.31L788.71 509.51M786.17 517.2L788.71 509.51L793.43 516.1M264.15 545.49L254.45 543.03M257.84 546L254.45 543.03L258.84 542.04M282.33 545.49L270.56 543.11M274.8 546.47L270.56 543.11L275.77 541.67M300.51 545.49L289.61 543.98M293.68 546.8L289.61 543.98L294.29 542.36M318.69 545.49L308.76 544.31M312.5 546.81L308.76 544.31L312.98 542.76M336.87 545.49L327 543.89M330.64 546.55L327 543.89L331.29 542.52M355.05 545.49L345.64 542.11M348.73 545.39L345.64 542.11L350.11 541.55M373.24 545.49L365.18 539.57M367.21 543.58L365.18 539.57L369.62 540.3M391.42 545.49L384.79 538.01M385.92 542.36L384.79 538.01L388.97 539.66M409.6 545.49L403.87 537.3M404.5 541.75L403.87 537.3L407.84 539.42M427.78 545.49L422.67 536.9M422.97 541.39L422.67 536.9L426.47 539.3M445.96 545.49L440.8 535.78M440.89 540.73L440.8 535.78L444.85 538.62M464.15 545.49L458.74 534.78M458.72 540.18L458.74 534.78L463.09 537.97M482.33 545.49L477.13 534.67M477.01 540.07L477.13 534.67L481.42 537.95M500.51 545.49L495.37 533.55M495 539.39L495.37 533.55L499.87 537.29M518.69 545.49L514.12 532.26M513.26 538.5L514.12 532.26L518.65 536.64M536.87 545.49L533.31 531.95M531.98 538.11L533.31 531.95L537.5 536.66M555.05 545.49L551.74 530.86M550.09 537.41L551.74 530.86L556.05 536.06M573.24 545.49L569.91 530.86M568.26 537.41L569.91 530.86L574.23 536.05M591.42 545.49L587.83 529.9M586.09 536.88L587.83 529.9L592.45 535.42M609.6 545.49L606.37 529.31M604.37 536.46L606.37 529.31L610.96 535.14M627.78 545.49L625.77 529.11M623.24 536.1L625.77 529.11L629.91 535.27M645.96 545.49L645.33 529M642.22 535.75L645.33 529L648.95 535.49M664.15 545.49L663.94 528.37M660.53 535.28L663.94 528.37L667.51 535.19M682.33 545.49L681.87 528.37M678.56 535.33L681.87 528.37L685.54 535.15M700.51 545.49L699.41 528.4M696.37 535.48L699.41 528.4L703.34 535.03M718.69 545.49L717.39 528.42M714.43 535.53L717.39 528.42L721.39 535M736.87 545.49L735.52 528.42M732.59 535.54L735.52 528.42L739.54 534.99M755.05 545.49L753.2 527.59M750.29 535.15L753.2 527.59L757.59 534.39M773.24 545.49L770.91 527.64M768.21 535.28L770.91 527.64L775.48 534.33M791.42 545.49L788.89 527.67M786.27 535.33L788.89 527.67L793.54 534.3M245.96 563.67L234.18 561.41M238.45 564.72L234.18 561.41L239.37 559.91M264.15 563.67L252.47 560.88M256.59 564.38L252.47 560.88L257.72 559.62M282.33 563.67L271.67 560.96M275.39 564.22L271.67 560.96L276.5 559.88M300.51 563.67L289.78 561.25M293.59 564.41L289.78 561.25L294.58 560.03M318.69 563.67L308.93 561.5M312.4 564.36L308.93 561.5L313.29 560.38M336.87 563.67L327.33 560.69M330.55 563.83L327.33 560.69L331.77 559.94M355.05 563.67L346.39 558.67M348.85 562.44L346.39 558.67L350.89 558.91M373.24 563.67L366.16 556.6M367.56 560.88L366.16 556.6L370.44 558M391.42 563.67L384.87 554.83M385.7 559.71L384.87 554.83L389.3 557.05M409.6 563.67L404.14 555.29M404.62 559.77L404.14 555.29L408.04 557.54M427.78 563.67L422.34 554.11M422.57 559.06L422.34 554.11L426.47 556.84M445.96 563.67L441.36 553.68M441.17 558.63L441.36 553.68L445.24 556.75M464.15 563.67L459.67 552.54M459.2 557.92L459.67 552.54L463.73 556.09M482.33 563.67L477.55 551.58M477 557.41L477.55 551.58L481.93 555.46M500.51 563.67L495.76 551.57M495.2 557.4L495.76 551.57L500.13 555.46M518.69 563.67L513.93 550.51M513.16 556.76L513.93 550.51L518.52 554.82M536.87 563.67L532.38 549.36M531.27 556.02L532.38 549.36L537.1 554.19M555.05 563.67L551.03 549.22M549.7 555.84L551.03 549.22L555.59 554.2M573.24 563.67L569.21 548.19M567.67 555.22L569.21 548.19L573.98 553.58M591.42 563.67L587.67 548.12M586 555.12L587.67 548.12L592.34 553.59M609.6 563.67L606.17 546.89M604.13 554.32L606.17 546.89L610.97 552.93M627.78 563.67L625.32 546.73M622.85 554.03L625.32 546.73L629.76 553.02M645.96 563.67L644.49 546.61M641.6 553.76L644.49 546.61L648.56 553.16M664.15 563.67L663.14 546.58M660.06 553.64L663.14 546.58L667.03 553.23M682.33 563.67L681.26 546.58M678.21 553.66L681.26 546.58L685.17 553.22M700.51 563.67L699.42 546.58M696.37 553.66L699.42 546.58L703.34 553.22M718.69 563.67L717.89 545.69M714.55 553.07L717.89 545.69L721.88 552.74M736.87 563.67L736.22 545.68M732.82 553.03L736.22 545.68L740.15 552.77M755.05 563.67L754.2 545.69M750.88 553.08L754.2 545.69L758.21 552.73M773.24 563.67L771.67 544.61M768.41 552.58L771.67 544.61L776.18 551.94M791.42 563.67L789.23 544.67M786.24 552.74L789.23 544.67L793.98 551.85M209.6 581.85L196.73 580.05M201.52 583.4L196.73 580.05L202.26 578.15M227.78 581.85L214.89 580.19M219.72 583.49L214.89 580.19L220.4 578.23M245.96 581.85L234.09 580.12M238.5 583.24L234.09 580.12L239.21 578.4M264.15 581.85L252.4 579.38M256.61 582.77L252.4 579.38L257.62 577.98M282.33 581.85L270.82 578.45M274.74 582.16L270.82 578.45L276.13 577.47M300.51 581.85L290.13 578.22M293.55 581.8L290.13 578.22L295.03 577.56M318.69 581.85L308.51 577.68M311.75 581.43L308.51 577.68L313.45 577.28M336.87 581.85L328.15 576.96M330.65 580.7L328.15 576.96L332.65 577.15M355.05 581.85L346.76 574.63M348.62 579.22L346.76 574.63L351.56 575.84M373.24 581.85L366.42 573.22M367.4 578.07L366.42 573.22L370.92 575.3M391.42 581.85L385.3 572.72M385.89 577.63L385.3 572.72L389.62 575.13M409.6 581.85L403.61 572.63M404.13 577.55L403.61 572.63L407.9 575.11M427.78 581.85L422.23 572.36M422.52 577.3L422.23 572.36L426.39 575.04M445.96 581.85L442.08 571.56M441.54 576.48L442.08 571.56L445.74 574.9M464.15 581.85L460.59 570.39M459.68 575.72L460.59 570.39L464.35 574.27M482.33 581.85L478.33 569.48M477.42 575.26L478.33 569.48L482.46 573.63M500.51 581.85L496.19 569.59M495.42 575.39L496.19 569.59L500.42 573.63M518.69 581.85L513.98 568.67M513.18 574.92L513.98 568.67L518.56 573M536.87 581.85L532.14 567.62M531.14 574.3L532.14 567.62L536.94 572.37M555.05 581.85L550.43 566.54M549.17 573.62L550.43 566.54L555.41 571.74M573.24 581.85L568.97 566.3M567.51 573.41L568.97 566.3L573.85 571.67M591.42 581.85L587.57 566.2M585.92 573.26L587.57 566.2L592.3 571.69M609.6 581.85L606.07 565.1M604.07 572.54L606.07 565.1L610.9 571.1M627.78 581.85L624.93 564.97M622.63 572.32L624.93 564.97L629.52 571.16M645.96 581.85L643.77 564.87M641.19 572.13L643.77 564.87L648.11 571.24M664.15 581.85L662.31 563.95M659.4 571.51L662.31 563.95L666.7 570.76M682.33 581.85L680.8 563.92M677.76 571.43L680.8 563.92L685.07 570.8M700.51 581.85L699.46 563.89M696.22 571.31L699.46 563.89L703.54 570.88M718.69 581.85L718.07 563.87M714.65 571.21L718.07 563.87L721.98 570.96M736.87 581.85L736.3 562.73M732.63 570.52L736.3 562.73L740.42 570.28M755.05 581.85L754.39 562.74M750.76 570.54L754.39 562.74L758.55 570.27M773.24 581.85L772.11 562.76M768.67 570.65L772.11 562.76L776.45 570.19M791.42 581.85L789.52 561.44M786.12 570.02L789.52 561.44L794.44 569.24M136.87 600.04L122.58 595.49M127.39 600.23L122.58 595.49L129.24 594.4M155.05 600.04L140.64 595.9M145.58 600.5L140.64 595.9L147.26 594.62M173.24 600.04L158.63 596.64M163.8 600.98L158.63 596.64L165.18 595.03M191.42 600.04L176.63 597.51M182.05 601.54L176.63 597.51L183.08 595.51M209.6 600.04L196.71 598.36M201.54 601.66L196.71 598.36L202.22 596.41M227.78 600.04L214.91 598.48M219.77 601.73L214.91 598.48L220.41 596.47M245.96 600.04L233.08 598.32M237.9 601.64L233.08 598.32L238.6 596.38M264.15 600.04L252.39 597.61M256.61 600.98L252.39 597.61L257.6 596.19M282.33 600.04L270.93 596.28M274.74 600.11L270.93 596.28L276.27 595.46M300.51 600.04L289.58 595.09M292.95 599.3L289.58 595.09L294.97 594.85M318.69 600.04L309.19 594.49M311.87 598.65L309.19 594.49L314.13 594.78M336.87 600.04L328.2 593.27M330.3 597.75L328.2 593.27L333.06 594.22M355.05 600.04L347.57 591.98M348.93 596.74L347.57 591.98L352.21 593.69M373.24 600.04L366.8 591.11M367.57 596.01L366.8 591.11L371.2 593.38M391.42 600.04L384.83 590.01M385.43 595.38L384.83 590.01L389.52 592.69M409.6 600.04L403.55 590.8M404.09 595.72L403.55 590.8L407.84 593.26M427.78 600.04L422.04 590.66M422.43 595.59L422.04 590.66L426.25 593.25M445.96 600.04L442.47 589.6M441.75 594.5L442.47 589.6L446 593.08M464.15 600.04L460.79 588.52M459.79 593.82L460.79 588.52L464.48 592.45M482.33 600.04L478.57 587.59M477.54 593.35L478.57 587.59L482.61 591.82M500.51 600.04L496.4 587.7M495.54 593.49L496.4 587.7L500.56 591.81M518.69 600.04L514.12 586.8M513.26 593.04L514.12 586.8L518.65 591.18M536.87 600.04L532.21 585.78M531.17 592.45L532.21 585.78L536.98 590.55M555.05 600.04L550.49 584.7M549.19 591.79L550.49 584.7L555.44 589.92M573.24 600.04L569.07 584.46M567.57 591.56L569.07 584.46L573.92 589.86M591.42 600.04L587.71 584.34M586 591.4L587.71 584.34L592.39 589.88M609.6 600.04L606.17 583.26M604.12 590.69L606.17 583.26L610.96 589.29M627.78 600.04L624.86 583.16M622.59 590.53L624.86 583.16L629.47 589.34M645.96 600.04L643.38 582.22M640.79 589.9L643.38 582.22L648.05 588.84M664.15 600.04L662 582.17M659.22 589.77L662 582.17L666.5 588.9M682.33 600.04L680.63 582.12M677.66 589.65L680.63 582.12L684.96 588.96M700.51 600.04L699.35 582.07M696.16 589.52L699.35 582.07L703.48 589.04M718.69 600.04L717.92 580.93M714.33 588.75L717.92 580.93L722.12 588.44M736.87 600.04L736.23 580.92M732.59 588.72L736.23 580.92L740.38 588.46M755.05 600.04L754.24 579.55M750.4 587.94L754.24 579.55L758.74 587.61M773.24 600.04L772.02 579.57M768.34 588.03L772.02 579.57L776.68 587.54M791.42 600.04L789.65 579.61M786.19 588.17L789.65 579.61L794.52 587.45M27.78 618.22L11.24 613.79M16.97 618.94L11.24 613.79L18.78 612.2M45.96 618.22L29.41 613.82M35.16 618.96L29.41 613.82L36.95 612.21M64.15 618.22L47.61 613.76M53.34 618.92L47.61 613.76L55.15 612.18M82.33 618.22L65.84 613.57M71.51 618.8L65.84 613.57L73.4 612.08M100.51 618.22L84.11 613.29M89.68 618.61L84.11 613.29L91.69 611.93M118.69 618.22L102.36 613.07M107.86 618.46L102.36 613.07L109.96 611.81M136.87 618.22L121.5 613.35M126.68 618.43L121.5 613.35L128.66 612.17M155.05 618.22L140.68 613.92M145.57 618.57L140.68 613.92L147.33 612.72M173.24 618.22L158.71 614.47M163.78 618.93L158.71 614.47L165.3 613.01M191.42 618.22L177.69 615.45M182.64 619.36L177.69 615.45L183.77 613.76M209.6 618.22L196.75 616.24M201.5 619.65L196.75 616.24L202.31 614.42M227.78 618.22L215.89 616.59M220.33 619.66L215.89 616.59L221 614.82M245.96 618.22L234.14 616.2M238.47 619.42L234.14 616.2L239.29 614.6M264.15 618.22L252.56 615.09M256.57 618.71L252.56 615.09L257.85 613.98M282.33 618.22L271.17 613.81M274.75 617.85L271.17 613.81L276.54 613.31M300.51 618.22L289.93 612.56M293.02 616.98L289.93 612.56L295.33 612.67M318.69 618.22L308.88 611.31M311.41 616.08L308.88 611.31L314.22 612.08M336.87 618.22L328 610.14M329.91 615.19L328 610.14L333.2 611.57M355.05 618.22L347.2 609.15M348.5 614.39L347.2 609.15L352.2 611.19M373.24 618.22L366.23 608.47M367.06 613.81L366.23 608.47L371.03 610.96M391.42 618.22L384.81 608.2M385.42 613.56L384.81 608.2L389.51 610.87M409.6 618.22L403.63 608.98M404.14 613.9L403.63 608.98L407.91 611.47M427.78 618.22L422.25 608.71M422.53 613.65L422.25 608.71L426.41 611.4M445.96 618.22L441.78 606.97M441.17 612.34L441.78 606.97L445.75 610.63M464.15 618.22L460.62 606.75M459.7 612.07L460.62 606.75L464.37 610.63M482.33 618.22L478.42 605.82M477.46 611.59L478.42 605.82L482.51 610M500.51 618.22L496.38 605.89M495.53 611.68L496.38 605.89L500.55 610M518.69 618.22L514.29 604.93M513.35 611.16L514.29 604.93L518.76 609.36M536.87 618.22L532.49 603.87M531.33 610.52L532.49 603.87L537.17 608.74M555.05 618.22L550.83 602.79M549.38 609.84L550.83 602.79L555.67 608.12M573.24 618.22L569.43 602.55M567.77 609.61L569.43 602.55L574.15 608.06M591.42 618.22L588.11 602.44M586.22 609.44L588.11 602.44L592.65 608.09M609.6 618.22L606.61 601.36M604.37 608.73L606.61 601.36L611.25 607.51M627.78 618.22L625.22 601.29M622.8 608.6L625.22 601.29L629.7 607.56M645.96 618.22L643.6 600.37M640.91 608.02L643.6 600.37L648.18 607.05M664.15 618.22L662.05 600.34M659.25 607.94L662.05 600.34L666.53 607.09M682.33 618.22L680.55 600.31M677.61 607.85L680.55 600.31L684.91 607.13M700.51 618.22L699.04 599.15M695.74 607.1L699.04 599.15L703.51 606.5M718.69 618.22L717.57 599.13M714.13 607.01L717.57 599.13L721.91 606.56M736.87 618.22L735.9 599.12M732.4 606.98L735.9 599.12L740.18 606.58M755.05 618.22L753.91 597.75M750.2 606.19L753.91 597.75L758.54 605.73M773.24 618.22L771.81 597.77M768.21 606.26L771.81 597.77L776.55 605.68M791.42 618.22L789.62 597.8M786.18 606.36L789.62 597.8L794.5 605.62M9.6 636.4L-6.95 631.99M-1.21 637.13L-6.95 631.99L0.59 630.39M27.78 636.4L11.21 632.09M16.98 637.19L11.21 632.09L18.74 630.44M45.96 636.4L29.99 632.27M35.56 637.18L29.99 632.27L37.24 630.67M64.15 636.4L48.18 632.23M53.74 637.16L48.18 632.23L55.43 630.65M82.33 636.4L66.76 632.18M72.15 637.05L66.76 632.18L73.87 630.7M100.51 636.4L85.14 631.95M90.4 636.87L85.14 631.95L92.21 630.6M118.69 636.4L103.39 631.72M108.58 636.72L103.39 631.72L110.48 630.48M136.87 636.4L122.56 631.91M127.39 636.63L122.56 631.91L129.22 630.79M155.05 636.4L141.7 632.2M146.2 636.61L141.7 632.2L147.91 631.16M173.24 636.4L159.84 632.34M164.39 636.7L159.84 632.34L166.04 631.24M191.42 636.4L178.9 632.88M183.21 636.84L178.9 632.88L184.64 631.74M209.6 636.4L198.01 633.3M202.03 636.91L198.01 633.3L203.29 632.18M227.78 636.4L216.26 633.04M220.2 636.73L216.26 633.04L221.57 632.04M245.96 636.4L234.67 632.35M238.37 636.28L234.67 632.35L240.02 631.67M264.15 636.4L253.06 631.81M256.57 635.91L253.06 631.81L258.44 631.39M282.33 636.4L271.51 631.2M274.79 635.49L271.51 631.2L276.91 631.08M300.51 636.4L290.25 630.17M293.1 634.76L290.25 630.17L295.64 630.58M318.69 636.4L308.48 628.35M310.94 633.66L308.48 628.35L314.22 629.5M336.87 636.4L327.61 627.28M329.47 632.83L327.61 627.28L333.18 629.05M355.05 636.4L346.6 626.52M347.98 632.21L346.6 626.52L352 628.76M373.24 636.4L365.46 625.98M366.46 631.75L365.46 625.98L370.7 628.58M391.42 636.4L384.69 626.46M385.36 631.82L384.69 626.46L389.41 629.08M409.6 636.4L404.26 627.95M404.68 632.43L404.26 627.95L408.12 630.25M427.78 636.4L422.43 626.79M422.62 631.74L422.43 626.79L426.53 629.56M445.96 636.4L441.55 626.32M441.27 631.26L441.55 626.32L445.38 629.47M464.15 636.4L460.01 625.13M459.38 630.5L460.01 625.13L463.97 628.81M482.33 636.4L478.04 624.13M477.26 629.92L478.04 624.13L482.26 628.18M500.51 636.4L496.36 624.08M495.51 629.87L496.36 624.08L500.54 628.18M518.69 636.4L514.59 623.01M513.51 629.22L514.59 623.01L518.96 627.55M536.87 636.4L532.71 620.95M531.23 628L532.71 620.95L537.53 626.3M555.05 636.4L551.3 620.72M549.61 627.78L551.3 620.72L556 626.24M573.24 636.4L569.83 620.26M567.9 627.43L569.83 620.26L574.49 626.04M591.42 636.4L588.61 620.14M586.42 627.24L588.61 620.14L593.05 626.09M609.6 636.4L607.38 619.42M604.81 626.69L607.38 619.42L611.73 625.78M627.78 636.4L626.01 619.37M623.25 626.56L626.01 619.37L630.19 625.84M645.96 636.4L644.24 618.48M641.28 626.02L644.24 618.48L648.58 625.32M664.15 636.4L662.42 618.48M659.46 626.02L662.42 618.48L666.76 625.32M682.33 636.4L680.67 618.48M677.68 626L680.67 618.48L684.99 625.33M700.51 636.4L698.95 617.34M695.69 625.3L698.95 617.34L703.46 624.67M718.69 636.4L717.33 617.32M713.99 625.25L717.33 617.32L721.77 624.7M736.87 636.4L735.52 615.94M731.89 624.43L735.52 615.94L740.23 623.88M755.05 636.4L753.67 615.95M750.05 624.44L753.67 615.95L758.39 623.87M773.24 636.4L771.7 615.96M768.15 624.47L771.7 615.96L776.48 623.85M791.42 636.4L789.64 615.98M786.19 624.53L789.64 615.98L794.52 623.81M9.6 654.58L-6.96 650.21M-1.21 655.34L-6.96 650.21L0.58 648.59M27.78 654.58L11.81 650.45M17.37 655.36L11.81 650.45L19.06 648.85M45.96 654.58L30.32 650.55M35.77 655.35L30.32 650.55L37.41 648.98M64.15 654.58L48.54 650.54M53.97 655.34L48.54 650.54L55.62 648.98M82.33 654.58L66.87 650.44M72.23 655.25L66.87 650.44L73.92 648.95M100.51 654.58L86.08 650.48M91.03 655.07L86.08 650.48L92.71 649.19M118.69 654.58L105.26 650.62M109.84 654.95L105.26 650.62L111.46 649.47M136.87 654.58L123.47 650.54M128.02 654.89L123.47 650.54L129.67 649.43M155.05 654.58L141.7 650.38M146.2 654.79L141.7 650.38L147.91 649.35M173.24 654.58L159.96 650.13M164.38 654.62L159.96 650.13L166.2 649.21M191.42 654.58L179.2 650.13M183.2 654.4L179.2 650.13L185.01 649.43M209.6 654.58L197.58 649.63M201.39 654.07L197.58 649.63L203.41 649.17M227.78 654.58L216.02 649.04M219.61 653.66L216.02 649.04L221.87 648.86M245.96 654.58L234.32 648.8M237.81 653.49L234.32 648.8L240.17 648.75M264.15 654.58L251.61 648.35M255.37 653.41L251.61 648.35L257.91 648.3M282.33 654.58L270.85 648.48M274.21 653.27L270.85 648.48L276.7 648.59M300.51 654.58L289.68 647.39M292.56 652.49L289.68 647.39L295.49 648.07M318.69 654.58L308.12 645.41M310.49 651.24L308.12 645.41L314.23 646.93M336.87 654.58L327.2 644.46M329.02 650.49L327.2 644.46L333.14 646.55M355.05 654.58L346.61 644.7M347.98 650.38L346.61 644.7L352.01 646.94M373.24 654.58L365.22 644.35M366.35 650.09L365.22 644.35L370.52 646.82M391.42 654.58L383.81 644.04M384.71 649.82L383.81 644.04L389.01 646.72M409.6 654.58L403.53 645.41M404.1 650.33L403.53 645.41L407.83 647.85M427.78 654.58L422.23 645.09M422.52 650.03L422.23 645.09L426.39 647.76M445.96 654.58L440.65 643.82M440.59 649.22L440.65 643.82L444.97 647.06M464.15 654.58L459.51 643.51M459.12 648.9L459.51 643.51L463.63 647.01M482.33 654.58L477.86 642.37M477.17 648.18L477.86 642.37L482.14 646.36M500.51 654.58L496.58 642.19M495.63 647.96L496.58 642.19L500.68 646.36M518.69 654.58L515.07 641.06M513.77 647.22L515.07 641.06L519.28 645.75M536.87 654.58L533.26 639M531.53 645.99L533.26 639L537.89 644.51M555.05 654.58L551.7 638.81M549.83 645.82L551.7 638.81L556.26 644.45M573.24 654.58L570.12 638.38M568.07 645.51L570.12 638.38L574.68 644.24M591.42 654.58L589.13 638.24M586.72 645.26L589.13 638.24L593.38 644.33M609.6 654.58L608.31 637.51M605.34 644.62L608.31 637.51L612.3 644.09M627.78 654.58L626.99 637.48M623.82 644.5L626.99 637.48L630.79 644.18M645.96 654.58L645.08 636.6M641.77 644L645.08 636.6L649.1 643.64M664.15 654.58L662.97 636.62M659.78 644.07L662.97 636.62L667.1 643.59M682.33 654.58L680.96 636.63M677.85 644.11L680.96 636.63L685.17 643.56M700.51 654.58L699.14 635.51M695.8 643.44L699.14 635.51L703.58 642.88M718.69 654.58L717.48 635.5M714.08 643.4L717.48 635.5L721.86 642.91M736.87 654.58L735.65 634.12M731.97 642.58L735.65 634.12L740.31 642.08M755.05 654.58L753.79 634.12M750.13 642.59L753.79 634.12L758.47 642.07M773.24 654.58L771.84 634.13M768.23 642.62L771.84 634.13L776.57 642.05M791.42 654.58L789.69 632.52M785.89 641.73L789.69 632.52L794.88 641.02M9.6 672.76L-6.95 668.35M-1.21 673.5L-6.95 668.35L0.59 666.75M27.78 672.76L11.81 668.61M17.37 673.53L11.81 668.61L19.07 667.02M45.96 672.76L30.35 668.72M35.79 673.53L30.35 668.72L37.44 667.16M64.15 672.76L48.54 668.69M53.97 673.5L48.54 668.69L55.63 667.14M82.33 672.76L66.88 668.58M72.23 673.41L66.88 668.58L73.93 667.11M100.51 672.76L85.11 668.43M90.4 673.31L85.11 668.43L92.17 667.03M118.69 672.76L103.29 668.43M108.59 673.31L103.29 668.43L110.35 667.03M136.87 672.76L121.47 668.43M126.77 673.3L121.47 668.43L128.53 667.03M155.05 672.76L139.7 668.25M144.94 673.19L139.7 668.25L146.78 666.93M173.24 672.76L158.05 667.72M163.12 672.84L158.05 667.72L165.17 666.65M191.42 672.76L176.56 666.84M181.31 672.25L176.56 666.84L183.73 666.19M209.6 672.76L194.98 665.96M199.46 671.67L194.98 665.96L202.23 665.71M227.78 672.76L213.48 665.6M217.76 671.39L213.48 665.6L220.68 665.56M245.96 672.76L231.72 665.56M235.98 671.37L231.72 665.56L238.92 665.55M264.15 672.76L250.77 665.98M254.75 671.43L250.77 665.98L257.52 665.97M282.33 672.76L270.07 666M273.61 671.21L270.07 666L276.37 666.22M300.51 672.76L289.16 664.57M292.04 670.17L289.16 664.57L295.38 665.55M318.69 672.76L308.58 663.08M310.66 669.03L308.58 663.08L314.61 664.91M336.87 672.76L327.47 662.39M329.13 668.47L327.47 662.39L333.36 664.64M355.05 672.76L345.96 662.12M347.44 668.24L345.96 662.12L351.78 664.54M373.24 672.76L364.46 661.86M365.76 668.02L364.46 661.86L370.2 664.44M391.42 672.76L383.56 662.41M384.6 668.16L383.56 662.41L388.82 664.96M409.6 672.76L403.19 663.82M403.94 668.72L403.19 663.82L407.59 666.1M427.78 672.76L421.83 663.51M422.33 668.43L421.83 663.51L426.11 666.01M445.96 672.76L440.27 662.2M440.4 667.6L440.27 662.2L444.71 665.28M464.15 672.76L459.36 661.76M459.04 667.15L459.36 661.76L463.53 665.2M482.33 672.76L478.06 660.48M477.27 666.28L478.06 660.48L482.28 664.54M500.51 672.76L496.99 660.25M495.85 665.99L496.99 660.25L500.95 664.55M518.69 672.76L515.48 659.14M513.99 665.26L515.48 659.14L519.54 663.95M536.87 672.76L533.57 657.11M531.71 664.06L533.57 657.11L538.09 662.72M555.05 672.76L551.83 656.97M549.9 663.96L551.83 656.97L556.34 662.65M573.24 672.76L570.1 656.57M568.06 663.7L570.1 656.57L574.66 662.42M591.42 672.76L589.44 656.38M586.89 663.36L589.44 656.38L593.57 662.55M609.6 672.76L609.1 655.65M605.81 662.61L609.1 655.65L612.79 662.41M627.78 672.76L627.66 655.64M624.22 662.54L627.66 655.64L631.2 662.48M645.96 672.76L645.69 654.77M642.13 662.04L645.69 654.77L649.47 661.93M664.15 672.76L663.43 654.78M660.05 662.14L663.43 654.78L667.38 661.85M682.33 672.76L681.24 654.8M678.02 662.23L681.24 654.8L685.34 661.78M700.51 672.76L699.35 653.67M695.92 661.57L699.35 653.67L703.71 661.1M718.69 672.76L717.67 653.67M714.19 661.54L717.67 653.67L721.97 661.12M736.87 672.76L735.89 653.66M732.39 661.53L735.89 653.66L740.18 661.13M755.05 672.76L753.97 652.29M750.23 660.73L753.97 652.29L758.58 660.28M773.24 672.76L772.03 652.3M768.34 660.76L772.03 652.3L776.68 660.26M791.42 672.76L790.04 652.31M786.43 660.8L790.04 652.31L794.76 660.24M9.6 690.95L-6.91 686.41M-1.21 691.6L-6.91 686.41L0.64 684.87M27.78 690.95L11.24 686.52M16.97 691.67L11.24 686.52L18.78 684.92M45.96 690.95L29.41 686.55M35.16 691.69L29.41 686.55L36.95 684.94M64.15 690.95L47.61 686.49M53.34 691.65L47.61 686.49L55.15 684.91M82.33 690.95L65.83 686.36M71.51 691.56L65.83 686.36L73.38 684.84M100.51 690.95L84.01 686.36M89.69 691.56L84.01 686.36L91.56 684.84M118.69 690.95L102.16 686.47M107.88 691.63L102.16 686.47L109.71 684.9M136.87 690.95L120.94 686.67M126.46 691.63L120.94 686.67L128.2 685.14M155.05 690.95L139.14 686.58M144.64 691.57L139.14 686.58L146.42 685.09M173.24 690.95L157.83 686.18M163.04 691.23L157.83 686.18L164.98 684.95M191.42 690.95L176.4 685.07M181.23 690.48L176.4 685.07L183.63 684.36M209.6 690.95L195.01 684.08M199.46 689.81L195.01 684.08L202.26 683.86M227.78 690.95L213.48 683.78M217.76 689.57L213.48 683.78L220.68 683.74M245.96 690.95L232.58 684.17M236.57 689.61L232.58 684.17L239.33 684.16M264.15 690.95L250.82 684.06M254.76 689.54L250.82 684.06L257.57 684.11M282.33 690.95L270.27 683.83M273.66 689.14L270.27 683.83L276.56 684.23M300.51 690.95L289.59 682.18M292.19 687.92L289.59 682.18L295.76 683.47M318.69 690.95L308.99 680.85M310.82 686.88L308.99 680.85L314.94 682.92M336.87 690.95L327.61 680.45M329.19 686.55L327.61 680.45L333.46 682.77M355.05 690.95L345.87 680.38M347.4 686.49L345.87 680.38L351.71 682.75M373.24 690.95L365.05 680.85M366.27 686.57L365.05 680.85L370.39 683.23M391.42 690.95L383.57 680.58M384.61 686.34L383.57 680.58L388.83 683.14M409.6 690.95L402.43 681.32M403.35 686.64L402.43 681.32L407.27 683.72M427.78 690.95L421.54 681.89M422.2 686.79L421.54 681.89L425.89 684.25M445.96 690.95L440.05 680.5M440.3 685.9L440.05 680.5L444.55 683.49M464.15 690.95L459.09 678.97M458.68 684.8L459.09 678.97L463.56 682.74M482.33 690.95L478.5 678.52M477.5 684.29L478.5 678.52L482.57 682.73M500.51 690.95L497.17 677.35M495.74 683.48L497.17 677.35L501.28 682.12M518.69 690.95L515.69 677.27M514.11 683.37L515.69 677.27L519.68 682.15M536.87 690.95L533.64 675.27M531.75 682.22L533.64 675.27L538.13 680.9M555.05 690.95L551.83 675.14M549.9 682.14L551.83 675.14L556.34 680.82M573.24 690.95L570.02 674.76M568.01 681.91L570.02 674.76L574.61 680.6M591.42 690.95L589.54 674.55M586.95 681.51L589.54 674.55L593.63 680.75M609.6 690.95L609.4 674.45M606.12 681.11L609.4 674.45L612.84 681.03M627.78 690.95L627.78 673.82M624.29 680.69L627.78 673.82L631.27 680.69M645.96 690.95L645.87 672.95M642.24 680.19L645.87 672.95L649.57 680.15M664.15 690.95L663.63 672.95M660.17 680.28L663.63 672.95L667.51 680.07M682.33 690.95L681.41 672.97M678.12 680.37L681.41 672.97L685.44 679.99M700.51 690.95L699.46 671.85M695.99 679.73L699.46 671.85L703.77 679.3M718.69 690.95L717.72 671.85M714.22 679.71L717.72 671.85L722 679.31M736.87 690.95L735.92 671.82M732.41 679.68L735.92 671.82L740.19 679.29M755.05 690.95L754.09 671.85M750.58 679.71L754.09 671.85L758.37 679.31M773.24 690.95L772.14 670.47M768.41 678.91L772.14 670.47L776.75 678.46M791.42 690.95L790.26 670.48M786.56 678.93L790.26 670.48L794.9 678.45M9.6 709.13L-7.69 704.13M-1.77 709.66L-7.69 704.13L0.26 702.61M27.78 709.13L10.46 704.25M16.41 709.73L10.46 704.25L18.4 702.67M45.96 709.13L28.63 704.27M34.6 709.75L28.63 704.27L36.57 702.69M64.15 709.13L46.83 704.22M52.78 709.72L46.83 704.22L54.77 702.66M82.33 709.13L65.01 704.21M70.96 709.71L65.01 704.21L72.96 702.65M100.51 709.13L84 704.57M89.7 709.76L84 704.57L91.55 703.03M118.69 709.13L102.15 704.7M107.88 709.85L102.15 704.7L109.69 703.1M136.87 709.13L120.93 704.89M126.47 709.84L120.93 704.89L128.2 703.34M155.05 709.13L139.12 704.84M144.64 709.81L139.12 704.84L146.39 703.31M173.24 709.13L157.78 704.54M163.04 709.53L157.78 704.54L164.92 703.23M191.42 709.13L176.32 703.47M181.22 708.81L176.32 703.47L183.53 702.66M209.6 709.13L195.98 702.85M200.16 708.14L195.98 702.85L202.72 702.59M227.78 709.13L214.38 702.39M218.38 707.82L214.38 702.39L221.13 702.36M245.96 709.13L232.66 702.2M236.59 707.69L232.66 702.2L239.41 702.27M264.15 709.13L251.91 702.33M255.43 707.55L251.91 702.33L258.2 702.56M282.33 709.13L270.68 701.36M273.77 706.85L270.68 701.36L276.93 702.1M300.51 709.13L290.04 699.83M292.35 705.69L290.04 699.83L296.13 701.43M318.69 709.13L309.19 698.84M310.91 704.91L309.19 698.84L315.1 701.03M336.87 709.13L328.29 699.36M329.74 705.03L328.29 699.36L333.72 701.53M355.05 709.13L346.47 699.38M347.93 705.04L346.47 699.38L351.91 701.54M373.24 709.13L365.04 699.04M366.27 704.76L365.04 699.04L370.38 701.41M391.42 709.13L384.22 699.53M385.15 704.85L384.22 699.53L389.06 701.91M409.6 709.13L402.4 699.52M403.33 704.84L402.4 699.52L407.25 701.91M427.78 709.13L420.86 699.32M421.64 704.67L420.86 699.32L425.64 701.85M445.96 709.13L440.01 698.71M440.28 704.1L440.01 698.71L444.52 701.67M464.15 709.13L459.37 697.04M458.82 702.86L459.37 697.04L463.75 700.91M482.33 709.13L478.95 696.57M477.74 702.3L478.95 696.57L482.86 700.92M500.51 709.13L497.53 695.45M495.94 701.54L497.53 695.45L501.51 700.33M518.69 709.13L515.85 695.42M514.2 701.5L515.85 695.42L519.78 700.34M536.87 709.13L533.64 693.46M531.74 700.4L533.64 693.46L538.13 699.09M555.05 709.13L551.84 693.33M549.91 700.32L551.84 693.33L556.35 699.01M573.24 709.13L570.13 692.92M568.07 700.06L570.13 692.92L574.68 698.79M591.42 709.13L589.49 692.74M586.92 699.71L589.49 692.74L593.6 698.92M609.6 709.13L609.13 692.01M605.83 698.97L609.13 692.01L612.81 698.78M627.78 709.13L627.67 692M624.22 698.9L627.67 692L631.2 698.85M645.96 709.13L645.73 691.13M642.16 698.4L645.73 691.13L649.49 698.3M664.15 709.13L663.63 691.13M660.17 698.46L663.63 691.13L667.5 698.25M682.33 709.13L681.5 690.02M677.94 697.85L681.5 690.02L685.73 697.52M700.51 709.13L699.53 690.03M696.03 697.89L699.53 690.03L703.81 697.49M718.69 709.13L717.71 690.03M714.21 697.89L717.71 690.03L722 697.49M736.87 709.13L735.91 690.03M732.4 697.89L735.91 690.03L740.19 697.49M755.05 709.13L754.1 690.03M750.59 697.89L754.1 690.03L758.37 697.49M773.24 709.13L772.35 690.02M768.81 697.87L772.35 690.02L776.6 697.51M791.42 709.13L790.6 688.64M786.75 697.03L790.6 688.64L795.1 696.69M9.6 727.31L-6.76 722.26M-1.23 727.62L-6.76 722.26L0.83 720.95M27.78 727.31L11.39 722.36M16.96 727.69L11.39 722.36L18.97 721.01M45.96 727.31L29.56 722.41M35.14 727.72L29.56 722.41L37.14 721.03M64.15 727.31L47.73 722.43M53.32 727.73L47.73 722.43L55.31 721.04M82.33 727.31L66.49 722.69M71.9 727.77L66.49 722.69L73.78 721.32M100.51 727.31L84.62 722.86M90.09 727.88L84.62 722.86L91.9 721.41M118.69 727.31L102.76 723M108.28 727.97L102.76 723L110.03 721.48M136.87 727.31L120.94 723.03M126.46 728L120.94 723.03L128.2 721.5M155.05 727.31L139.5 723.05M144.87 727.93L139.5 723.05L146.61 721.59M173.24 727.31L157.92 722.67M163.12 727.65L157.92 722.67L165.01 721.41M191.42 727.31L176.43 721.72M181.3 727.02L176.43 721.72L183.58 720.91M209.6 727.31L195.96 721.08M200.16 726.36L195.96 721.08L202.7 720.8M227.78 727.31L214.44 720.44M218.4 725.92L214.44 720.44L221.19 720.48M245.96 727.31L233.73 720.5M237.25 725.72L233.73 720.5L240.03 720.74M264.15 727.31L252.26 719.92M255.52 725.31L252.26 719.92L258.53 720.46M282.33 727.31L271.13 718.9M273.91 724.56L271.13 718.9L277.34 719.99M300.51 727.31L290.32 717.71M292.45 723.64L290.32 717.71L296.36 719.49M318.69 727.31L309.91 717.73M311.48 723.36L309.91 717.73L315.38 719.78M336.87 727.31L328.96 718.28M330.3 723.52L328.96 718.28L333.98 720.29M355.05 727.31L347.18 718.25M348.5 723.49L347.18 718.25L352.19 720.28M373.24 727.31L365.68 717.99M366.81 723.27L365.68 717.99L370.61 720.19M391.42 727.31L384.17 717.75M385.13 723.06L384.17 717.75L389.03 720.11M409.6 727.31L402.42 717.7M403.34 723.02L402.42 717.7L407.26 720.09M427.78 727.31L420.93 717.46M421.67 722.81L420.93 717.46L425.69 720.01M445.96 727.31L439.66 715.94M439.87 721.79L439.66 715.94L444.51 719.22M464.15 727.31L459.6 715.13M458.94 720.94L459.6 715.13L463.91 719.09M482.33 727.31L479.16 714.7M477.86 720.4L479.16 714.7L483 719.11M500.51 727.31L497.65 713.6M496 719.69L497.65 713.6L501.59 718.52M518.69 727.31L515.89 713.59M514.22 719.66L515.89 713.59L519.81 718.52M536.87 727.31L533.65 711.64M531.75 718.58L533.65 711.64L538.14 717.27M555.05 727.31L551.86 711.5M549.92 718.5L551.86 711.5L556.36 717.19M573.24 727.31L570.28 711.08M568.16 718.19L570.28 711.08L574.78 716.99M591.42 727.31L589.36 710.94M586.85 717.92L589.36 710.94L593.53 717.09M609.6 727.31L608.57 710.22M605.5 717.28L608.57 710.22L612.47 716.86M627.78 727.31L627.25 710.19M623.97 717.17L627.25 710.19L630.95 716.95M645.96 727.31L645.55 709.31M642.05 716.62L645.55 709.31L649.38 716.45M664.15 727.31L663.78 709.31M660.26 716.61L663.78 709.31L667.59 716.46M682.33 727.31L681.81 708.19M678.12 715.97L681.81 708.19L685.91 715.76M700.51 727.31L699.73 708.2M696.15 716.03L699.73 708.2L703.94 715.71M718.69 727.31L717.76 708.21M714.24 716.06L717.76 708.21L722.03 715.68M736.87 727.31L735.94 708.21M732.42 716.06L735.94 708.21L740.21 715.68M755.05 727.31L754.26 708.2M750.68 716.03L754.26 708.2L758.47 715.7M773.24 727.31L772.74 708.19M769.04 715.96L772.74 708.19L776.83 715.76M791.42 727.31L791.09 706.81M787.04 715.1L791.09 706.81L795.4 714.97M9.6 745.49L-6.65 740.1M-1.23 745.57L-6.65 740.1L0.97 738.95M27.78 745.49L12.09 740.4M17.35 745.64L12.09 740.4L19.42 739.25M45.96 745.49L30.24 740.48M35.53 745.69L30.24 740.48L37.57 739.28M64.15 745.49L48.4 740.55M53.71 745.74L48.4 740.55L55.72 739.33M82.33 745.49L66.54 740.69M71.9 745.83L66.54 740.69L73.85 739.4M100.51 745.49L84.67 740.86M90.08 745.95L84.67 740.86L91.97 739.49M118.69 745.49L103.18 741.1M108.51 746.02L103.18 741.1L110.3 739.7M136.87 745.49L121.35 741.12M126.69 746.04L121.35 741.12L128.47 739.71M155.05 745.49L139.7 741.01M144.94 745.94L139.7 741.01L146.77 739.68M173.24 745.49L158.02 740.54M163.12 745.63L158.02 740.54L165.14 739.42M191.42 745.49L177.44 740.05M181.94 745.08L177.44 740.05L184.16 739.38M209.6 745.49L196.01 739.13M200.17 744.45L196.01 739.13L202.76 738.91M227.78 745.49L215.45 738.86M219.05 744.03L215.45 738.86L221.75 739.01M245.96 745.49L233.98 738.26M237.31 743.6L233.98 738.26L240.26 738.72M264.15 745.49L252.62 737.55M255.62 743.08L252.62 737.55L258.86 738.38M282.33 745.49L271.48 736.64M274.03 742.4L271.48 736.64L277.63 737.98M300.51 745.49L291.17 736.45M293.07 741.98L291.17 736.45L296.76 738.17M318.69 745.49L309.89 735.92M311.47 741.55L309.89 735.92L315.37 737.97M336.87 745.49L329.65 737.2M330.86 742L329.65 737.2L334.24 739.05M355.05 745.49L347.95 737.09M349.09 741.91L347.95 737.09L352.51 739.01M373.24 745.49L365.7 736.15M366.82 741.43L365.7 736.15L370.63 738.36M391.42 745.49L384.11 735.97M385.1 741.28L384.11 735.97L388.98 738.3M409.6 745.49L402.49 735.82M403.37 741.15L402.49 735.82L407.31 738.25M427.78 745.49L421.13 735.5M421.76 740.87L421.13 735.5L425.83 738.15M445.96 745.49L439.88 734M439.98 739.85L439.88 734L444.66 737.37M464.15 745.49L459.65 733.29M458.97 739.1L459.65 733.29L463.94 737.27M482.33 745.49L478.82 731.94M477.47 738.09L478.82 731.94L482.99 736.66M500.51 745.49L497.57 731.8M495.96 737.9L497.57 731.8L501.54 736.7M518.69 745.49L515.86 731.78M514.2 737.86L515.86 731.78L519.79 736.7M536.87 745.49L533.62 729.82M531.73 736.77L533.62 729.82L538.12 735.45M555.05 745.49L551.85 729.69M549.91 736.68L551.85 729.69L556.36 735.37M573.24 745.49L570.34 729.25M568.19 736.35L570.34 729.25L574.81 735.17M591.42 745.49L589.29 729.13M586.81 736.13L589.29 729.13L593.48 735.26M609.6 745.49L608.31 728.41M605.35 735.53L608.31 728.41L612.31 735M627.78 745.49L627.16 727.5M623.75 734.84L627.16 727.5L631.08 734.59M645.96 745.49L645.78 727.49M642.19 734.75L645.78 727.49L649.52 734.68M664.15 745.49L664.09 727.49M660.44 734.72L664.09 727.49L667.78 734.7M682.33 745.49L682.18 727.49M678.57 734.74L682.18 727.49L685.91 734.68M700.51 745.49L700.06 727.5M696.58 734.81L700.06 727.5L703.91 734.63M718.69 745.49L717.97 727.51M714.6 734.87L717.97 727.51L721.93 734.58M736.87 745.49L736.12 726.38M732.53 734.2L736.12 726.38L740.32 733.9M755.05 745.49L754.61 726.37M750.89 734.13L754.61 726.37L758.69 733.95M773.24 745.49L773.11 726.37M769.26 734.06L773.11 726.37L777.06 734.01M791.42 745.49L791.38 726.37M787.5 734.05L791.38 726.37L795.29 734.03M9.6 763.67L-5.94 758.13M-0.84 763.52L-5.94 758.13L1.43 757.18M27.78 763.67L12.2 758.24M17.35 763.6L12.2 758.24L19.56 757.25M45.96 763.67L30.7 758.46M35.76 763.66L30.7 758.46L37.89 757.44M64.15 763.67L48.85 758.57M53.95 763.73L48.85 758.57L56.03 757.5M82.33 763.67L66.99 758.7M72.13 763.82L66.99 758.7L74.16 757.57M100.51 763.67L85.13 758.84M90.31 763.91L85.13 758.84L92.28 757.64M118.69 763.67L103.4 758.97M108.57 763.97L103.4 758.97L110.49 757.74M136.87 763.67L121.59 758.95M126.76 763.96L121.59 758.95L128.68 757.73M155.05 763.67L140.79 759.04M145.57 763.8L140.79 759.04L147.46 757.99M173.24 763.67L159.13 758.57M163.75 763.49L159.13 758.57L165.83 757.74M191.42 763.67L177.6 757.85M181.95 763L177.6 757.85L184.33 757.37M209.6 763.67L197.05 757.46M200.82 762.51L197.05 757.46L203.35 757.4M227.78 763.67L215.62 756.73M219.09 762L215.62 756.73L221.91 757.04M245.96 763.67L234.22 756.05M237.38 761.5L234.22 756.05L240.49 756.71M264.15 763.67L252.91 755.33M255.71 760.96L252.91 755.33L259.12 756.38M282.33 763.67L272.46 755.21M274.69 760.62L272.46 755.21L278.14 756.59M300.51 763.67L291.23 754.57M293.1 760.11L291.23 754.57L296.81 756.33M318.69 763.67L310.56 754.85M312.02 760.05L310.56 754.85L315.62 756.73M336.87 763.67L329.66 755.36M330.86 760.17L329.66 755.36L334.25 757.23M355.05 763.67L348.02 755.22M349.12 760.04L348.02 755.22L352.57 757.18M373.24 763.67L365.76 754.29M366.85 759.58L365.76 754.29L370.67 756.53M391.42 763.67L384.17 754.11M385.13 759.43L384.17 754.11L389.02 756.47M409.6 763.67L402.07 753.08M402.93 758.86L402.07 753.08L407.25 755.79M427.78 763.67L420.84 752.68M421.39 758.51L420.84 752.68L425.87 755.68M445.96 763.67L440.05 752.1M440.06 757.95L440.05 752.1L444.78 755.54M464.15 763.67L459.17 750.59M458.5 756.85L459.17 750.59L463.84 754.82M482.33 763.67L478.5 750.21M477.29 756.39L478.5 750.21L482.78 754.83M500.51 763.67L497.29 750.05M495.8 756.17L497.29 750.05L501.36 754.86M518.69 763.67L515.47 749.02M513.78 755.56L515.47 749.02L519.75 754.24M536.87 763.67L533.51 748.03M531.67 754.99L533.51 748.03L538.05 753.62M555.05 763.67L551.82 747.87M549.9 754.87L551.82 747.87L556.34 753.55M573.24 763.67L570.36 747.43M568.2 754.53L570.36 747.43L574.83 753.36M591.42 763.67L589.29 747.31M586.81 754.31L589.29 747.31L593.48 753.44M609.6 763.67L608.38 747.22M605.52 754.07L608.38 747.22L612.22 753.57M627.78 763.67L627.33 746.55M624.02 753.52L627.33 746.55L631 753.33M645.96 763.67L645.91 746.55M642.44 753.43L645.91 746.55L649.42 753.41M664.15 763.67L664.15 746.55M660.66 753.42L664.15 746.55L667.64 753.42M682.33 763.67L682.28 746.55M678.81 753.43L682.28 746.55L685.79 753.41M700.51 763.67L700.21 745.68M696.66 752.96L700.21 745.68L704 752.84M718.69 763.67L718.1 745.68M714.67 753.02L718.1 745.68L722 752.78M736.87 763.67L736.27 744.56M732.62 752.35L736.27 744.56L740.41 752.1M755.05 763.67L754.79 744.55M751 752.28L754.79 744.55L758.79 752.17M773.24 763.67L773.2 744.55M769.32 752.23L773.2 744.55L777.11 752.21M791.42 763.67L791.42 744.55M787.52 752.22L791.42 744.55L795.32 752.22"/>
<g fill="none" stroke="#000" stroke-width="1" shape-rendering="crispEdges"><polyline points="234.5,27 236.6,34.3 234.5,42.8 235.5,49 233.4,53.4 229,59.8 228,65 222.8,68.3 226,72.5 224.9,79 227,85.3 224.9,93.8 218.5,96 213.2,100.2 215.3,104.5 216.4,110 216.9,113.75 213.75,120 220.6,130 212.5,141.25 211.25,143.75 211.25,156.25 213.75,167.5 217.5,175 215.6,180 216.25,185.6 212.5,188.75 203.75,187.5 196.25,188.1 196.9,191.25 196.25,198.75 196.9,203.75 191.9,207.5 189.4,213.75 188.1,217.5 187.5,226.25 187.5,235 190,240 194.4,245 195,253.75 198.1,256.25 199.4,260 200,265 198.75,269.4 195,272.5 185.6,275.6 193.1,278.75 193.75,281.9 190.6,285.6 191.25,290 193.1,293.1 199.4,296.25 203.75,301.25 213.75,308.1 217.5,309.4 226.25,311.25 231.25,314.4 235.6,314.4 241.25,318.1 255,325 262.5,328.75 275,339 284.4,348.75 290,358.1 288.1,363.75 280.6,371.25 274,380.6 272.2,390 275,403.1 282.5,412.5 291.9,421 299.4,423.75 305,426.6 308.75,424.75 316.25,422.9 319.1,423.75 321,427.5 322,438.75 323.75,450 324.75,464 319.5,470.5 310,482 298,499 288,512 274,524 264,534 260,544 260,552 254,557 240,562 226,571 216,576 210,577.9 199.5,581.8 186.4,585.75 170.6,588.4 154.9,593.6 149.6,596.25 128.6,598.9 110.2,602 97.1,605.4 81.4,607.5 31.5,613.3 7.9,616 0,617.25"/><polyline points="212.5,142.5 216.9,152.5 217.5,157.5 218.1,167.5 223.75,173.1 223.1,178.75 221.25,182 221.25,185 217.5,188.75 203.75,189.4 200.6,191.25 200.6,198.75 201.9,205 196.9,210 199.4,213.75 198.75,216.9 195.6,220 196.25,227.5 195.6,236.25 196.9,247.5 200,251.25 206.25,255 210,260 211.9,265 218.1,266.25 222.5,268.75 225,272.5 230,276.9 234.4,280.6 235,285 237.5,288.75 243.75,288.1 247.5,286.9 255,285.6 260,286.9 265,285.6 271.25,285 280,286.25 289.5,286.5 300,295.5 309,303 315,304.8 327,308.25 333,310.5 336,309.3 344.25,310.5 345,312.75 342.75,315 348,318.75 354,320.25 356.25,318.3 358.5,320.25 360.75,321.75 366,319.5 372.75,317.25 378,313.5 387.5,310.5 394.25,310.2 401,310.5 406.25,312.3 419.75,312.75 423.5,316.5 429.5,320.25 437,318.3 442.25,318.75 446,321 449,325.2 451.25,322.5 470,315 487.5,309.25 499.5,304.5 507,303.25 507.75,300 510,297 519,290.25 528,285.75 535.5,282.75 534,279 535.5,273 539.25,267.75 546,261.75 552,258 553.5,252 555,246 558,238.5 561.75,235.5 570,231.75 577.5,227 582,222 590,214.5 597,210.75 605,202 617.5,189.5 626.25,174.5 632.5,157 636.25,142 645,129.5 656.25,119.5 671.5,105.8 697.8,88.3 722.3,72.5 745,51.5 766,28.75 767,27"/><polyline points="407.5,27.6 411.25,32 417.5,37 420,40.75 421.9,45.75 426.25,51.4 430,53.9 441.25,55.75 450,62 457.5,67 466.25,68.25 475,72 482.5,77 488.75,88.25 498.75,95.75 507.5,102 511.25,100.75 518.75,103.25 526.25,107 530,112 536.25,113.25 540,123.25 543.75,127 545,134.5 552.5,142 560,149.5 572.5,153.25 582.5,162 572.5,169.5 567.5,177 557.5,184.5 552.5,192 551.25,207 553.5,212 552.75,219 551.25,225 552,229.5 555,231.75 558,231.75 561.75,235.5"/><polyline points="656.25,120.75 657.5,114.5 660,107.5 659.3,102.3 662.8,97 668,95.3 673.3,94.4 680.3,94.4 687.3,91.8 692.5,87.4 699.5,82.2 702.2,79.5 703,76 705.7,71.7 706.5,74.3 713.5,73.4 719.7,69 724,62 725.8,53.3 724,46.3 725.8,41 732.8,40.1 737.2,39.3 737.2,33.1 736.3,27"/><polyline points="701.3,27 700.4,35.75 703,41 701.3,42.75 690.8,46.3 689,53.3 680.3,55.9 668,58.5 664.5,63.8 663.75,70.75 658.75,77 660,84.5 650,92 646.25,99.5 647.5,107 645,114.5 650,120.75 657.5,119.5"/><polyline points="499.5,304.5 494.5,302.5 493.5,300 496,298 494.25,296.25 498.75,295.5 501,297"/><polyline points="737.2,39.3 740,42 738,46 741,48 738,51"/><polyline points="656,79.5 660,77 662.5,79.5 658.75,81"/><polyline points="372.5,42 380,41.4 382.5,40.1 387.5,38.25 391.25,33.25 395,32 398.1,31.4 398.75,28.9 397.5,27.6"/></g>
<g stroke="#000" stroke-width="1" shape-rendering="crispEdges" fill="none"><line x1="0" y1="27.5" x2="800" y2="27.5"/><line x1="0.5" y1="27" x2="0.5" y2="772"/><path d="M1.5 27V32M1.5 772V768M9.5 27V37M9.5 772V755M16.5 27V32M16.5 772V768M23.5 27V32M23.5 772V768M30.5 27V32M30.5 772V768M38.5 27V32M38.5 772V768M45.5 27V37M45.5 772V763M52.5 27V32M52.5 772V768M59.5 27V32M59.5 772V768M67.5 27V32M67.5 772V768M74.5 27V32M74.5 772V768M81.5 27V37M81.5 772V755M89.5 27V32M89.5 772V768M96.5 27V32M96.5 772V768M103.5 27V32M103.5 772V768M110.5 27V32M110.5 772V768M118.5 27V37M118.5 772V763M125.5 27V32M125.5 772V768M132.5 27V32M132.5 772V768M139.5 27V32M139.5 772V768M147.5 27V32M147.5 772V768M154.5 27V37M154.5 772V755M161.5 27V32M161.5 772V768M169.5 27V32M169.5 772V768M176.5 27V32M176.5 772V768M183.5 27V32M183.5 772V768M190.5 27V37M190.5 772V763M198.5 27V32M198.5 772V768M205.5 27V32M205.5 772V768M212.5 27V32M212.5 772V768M219.5 27V32M219.5 772V768M227.5 27V37M227.5 772V755M234.5 27V32M234.5 772V768M241.5 27V32M241.5 772V768M249.5 27V32M249.5 772V768M256.5 27V32M256.5 772V768M263.5 27V37M263.5 772V763M270.5 27V32M270.5 772V768M278.5 27V32M278.5 772V768M285.5 27V32M285.5 772V768M292.5 27V32M292.5 772V768M299.5 27V37M299.5 772V755M307.5 27V32M307.5 772V768M314.5 27V32M314.5 772V768M321.5 27V32M321.5 772V768M329.5 27V32M329.5 772V768M336.5 27V37M336.5 772V763M343.5 27V32M343.5 772V768M350.5 27V32M350.5 772V768M358.5 27V32M358.5 772V768M365.5 27V32M365.5 772V768M372.5 27V37M372.5 772V755M379.5 27V32M379.5 772V768M387.5 27V32M387.5 772V768M394.5 27V32M394.5 772V768M401.5 27V32M401.5 772V768M409.5 27V37M409.5 772V763M416.5 27V32M416.5 772V768M423.5 27V32M423.5 772V768M430.5 27V32M430.5 772V768M438.5 27V32M438.5 772V768M445.5 27V37M445.5 772V755M452.5 27V32M452.5 772V768M459.5 27V32M459.5 772V768M467.5 27V32M467.5 772V768M474.5 27V32M474.5 772V768M481.5 27V37M481.5 772V763M489.5 27V32M489.5 772V768M496.5 27V32M496.5 772V768M503.5 27V32M503.5 772V768M510.5 27V32M510.5 772V768M518.5 27V37M518.5 772V755M525.5 27V32M525.5 772V768M532.5 27V32M532.5 772V768M539.5 27V32M539.5 772V768M547.5 27V32M547.5 772V768M554.5 27V37M554.5 772V763M561.5 27V32M561.5 772V768M569.5 27V32M569.5 772V768M576.5 27V32M576.5 772V768M583.5 27V32M583.5 772V768M590.5 27V37M590.5 772V755M598.5 27V32M598.5 772V768M605.5 27V32M605.5 772V768M612.5 27V32M612.5 772V768M619.5 27V32M619.5 772V768M627.5 27V37M627.5 772V763M634.5 27V32M634.5 772V768M641.5 27V32M641.5 772V768M649.5 27V32M649.5 772V768M656.5 27V32M656.5 772V768M663.5 27V37M663.5 772V755M670.5 27V32M670.5 772V768M678.5 27V32M678.5 772V768M685.5 27V32M685.5 772V768M692.5 27V32M692.5 772V768M699.5 27V37M699.5 772V763M707.5 27V32M707.5 772V768M714.5 27V32M714.5 772V768M721.5 27V32M721.5 772V768M729.5 27V32M729.5 772V768M736.5 27V37M736.5 772V755M743.5 27V32M743.5 772V768M750.5 27V32M750.5 772V768M758.5 27V32M758.5 772V768M765.5 27V32M765.5 772V768M772.5 27V37M772.5 772V763M779.5 27V32M779.5 772V768M787.5 27V32M787.5 772V768M794.5 27V32M794.5 772V768M0 29.5H5M800 29.5H795M0 36.5H19M800 36.5H781M0 43.5H5M800 43.5H795M0 50.5H5M800 50.5H795M0 58.5H5M800 58.5H795M0 65.5H5M800 65.5H795M0 72.5H10M800 72.5H790M0 80.5H5M800 80.5H795M0 87.5H5M800 87.5H795M0 94.5H5M800 94.5H795M0 101.5H5M800 101.5H795M0 109.5H19M800 109.5H781M0 116.5H5M800 116.5H795M0 123.5H5M800 123.5H795M0 130.5H5M800 130.5H795M0 138.5H5M800 138.5H795M0 145.5H10M800 145.5H790M0 152.5H5M800 152.5H795M0 160.5H5M800 160.5H795M0 167.5H5M800 167.5H795M0 174.5H5M800 174.5H795M0 181.5H19M800 181.5H781M0 189.5H5M800 189.5H795M0 196.5H5M800 196.5H795M0 203.5H5M800 203.5H795M0 210.5H5M800 210.5H795M0 218.5H10M800 218.5H790M0 225.5H5M800 225.5H795M0 232.5H5M800 232.5H795M0 240.5H5M800 240.5H795M0 247.5H5M800 247.5H795M0 254.5H19M800 254.5H781M0 261.5H5M800 261.5H795M0 269.5H5M800 269.5H795M0 276.5H5M800 276.5H795M0 283.5H5M800 283.5H795M0 290.5H10M800 290.5H790M0 298.5H5M800 298.5H795M0 305.5H5M800 305.5H795M0 312.5H5M800 312.5H795M0 320.5H5M800 320.5H795M0 327.5H19M800 327.5H781M0 334.5H5M800 334.5H795M0 341.5H5M800 341.5H795M0 349.5H5M800 349.5H795M0 356.5H5M800 356.5H795M0 363.5H10M800 363.5H790M0 370.5H5M800 370.5H795M0 378.5H5M800 378.5H795M0 385.5H5M800 385.5H795M0 392.5H5M800 392.5H795M0 400.5H19M800 400.5H781M0 407.5H5M800 407.5H795M0 414.5H5M800 414.5H795M0 421.5H5M800 421.5H795M0 429.5H5M800 429.5H795M0 436.5H10M800 436.5H790M0 443.5H5M800 443.5H795M0 450.5H5M800 450.5H795M0 458.5H5M800 458.5H795M0 465.5H5M800 465.5H795M0 472.5H19M800 472.5H781M0 480.5H5M800 480.5H795M0 487.5H5M800 487.5H795M0 494.5H5M800 494.5H795M0 501.5H5M800 501.5H795M0 509.5H10M800 509.5H790M0 516.5H5M800 516.5H795M0 523.5H5M800 523.5H795M0 530.5H5M800 530.5H795M0 538.5H5M800 538.5H795M0 545.5H19M800 545.5H781M0 552.5H5M800 552.5H795M0 560.5H5M800 560.5H795M0 567.5H5M800 567.5H795M0 574.5H5M800 574.5H795M0 581.5H10M800 581.5H790M0 589.5H5M800 589.5H795M0 596.5H5M800 596.5H795M0 603.5H5M800 603.5H795M0 610.5H5M800 610.5H795M0 618.5H19M800 618.5H781M0 625.5H5M800 625.5H795M0 632.5H5M800 632.5H795M0 640.5H5M800 640.5H795M0 647.5H5M800 647.5H795M0 654.5H10M800 654.5H790M0 661.5H5M800 661.5H795M0 669.5H5M800 669.5H795M0 676.5H5M800 676.5H795M0 683.5H5M800 683.5H795M0 690.5H19M800 690.5H781M0 698.5H5M800 698.5H795M0 705.5H5M800 705.5H795M0 712.5H5M800 712.5H795M0 720.5H5M800 720.5H795M0 727.5H10M800 727.5H790M0 734.5H5M800 734.5H795M0 741.5H5M800 741.5H795M0 749.5H5M800 749.5H795M0 756.5H5M800 756.5H795M0 763.5H19M800 763.5H781M0 770.5H5M800 770.5H795"/></g><defs><linearGradient id="cb" x1="0" y1="0" x2="0" y2="1"><stop offset="0.0000" stop-color="rgb(190,0,130)"/><stop offset="0.1667" stop-color="rgb(255,0,0)"/><stop offset="0.3167" stop-color="rgb(255,128,0)"/><stop offset="0.4667" stop-color="rgb(255,255,0)"/><stop offset="0.6000" stop-color="rgb(0,255,0)"/><stop offset="0.7333" stop-color="rgb(0,255,255)"/><stop offset="1.0000" stop-color="rgb(0,0,255)"/></linearGradient></defs><rect x="32.5" y="160.5" width="48" height="607" fill="#fff" stroke="#000" stroke-width="1" shape-rendering="crispEdges"/><rect x="34" y="162" width="45" height="604" fill="url(#cb)"/><g font-family="Liberation Sans" font-size="15" fill="#000"><text x="34.5" y="147.5" font-size="17" textLength="43" lengthAdjust="spacingAndGlyphs">[m/s]</text><text x="87" y="165">30</text><text x="87" y="317">22</text><text x="87" y="468">15</text><text x="87" y="621">8</text><text x="87" y="772">0</text></g><g font-family="Liberation Sans" font-weight="bold" font-size="25" fill="#808080"><text x="6" y="49.5" textLength="382" lengthAdjust="spacingAndGlyphs">modelo GEFS-WAVE (NCEP)</text><text x="5" y="72" textLength="494" lengthAdjust="spacingAndGlyphs">forecast date: 2024-11-15 06:00:00</text><text x="41.5" y="95" textLength="447" lengthAdjust="spacingAndGlyphs">valid date: 2024-11-19 00:00:00</text></g><g font-family="Liberation Sans" font-size="12" fill="#868080"><text x="791" y="105" text-anchor="end">32S</text><text x="791" y="177" text-anchor="end">33S</text><text x="791" y="250" text-anchor="end">34S</text><text x="791" y="323" text-anchor="end">35S</text><text x="791" y="396" text-anchor="end">36S</text><text x="791" y="468" text-anchor="end">37S</text><text x="791" y="541" text-anchor="end">38S</text><text x="791" y="614" text-anchor="end">39S</text><text x="791" y="686" text-anchor="end">40S</text><text x="791" y="759" text-anchor="end">41S</text><text x="791" y="32" text-anchor="end">31S</text><text transform="translate(14,744) rotate(90)" x="0" y="0" font-size="11">61W</text><text transform="translate(87,744) rotate(90)" x="0" y="0" font-size="11">60W</text><text transform="translate(159,744) rotate(90)" x="0" y="0" font-size="11">59W</text><text transform="translate(232,744) rotate(90)" x="0" y="0" font-size="11">58W</text><text transform="translate(305,744) rotate(90)" x="0" y="0" font-size="11">57W</text><text transform="translate(377,744) rotate(90)" x="0" y="0" font-size="11">56W</text><text transform="translate(450,744) rotate(90)" x="0" y="0" font-size="11">55W</text><text transform="translate(523,744) rotate(90)" x="0" y="0" font-size="11">54W</text><text transform="translate(596,744) rotate(90)" x="0" y="0" font-size="11">53W</text><text transform="translate(668,744) rotate(90)" x="0" y="0" font-size="11">52W</text><text transform="translate(741,744) rotate(90)" x="0" y="0" font-size="11">51W</text></g>
</svg>
</body></html>
